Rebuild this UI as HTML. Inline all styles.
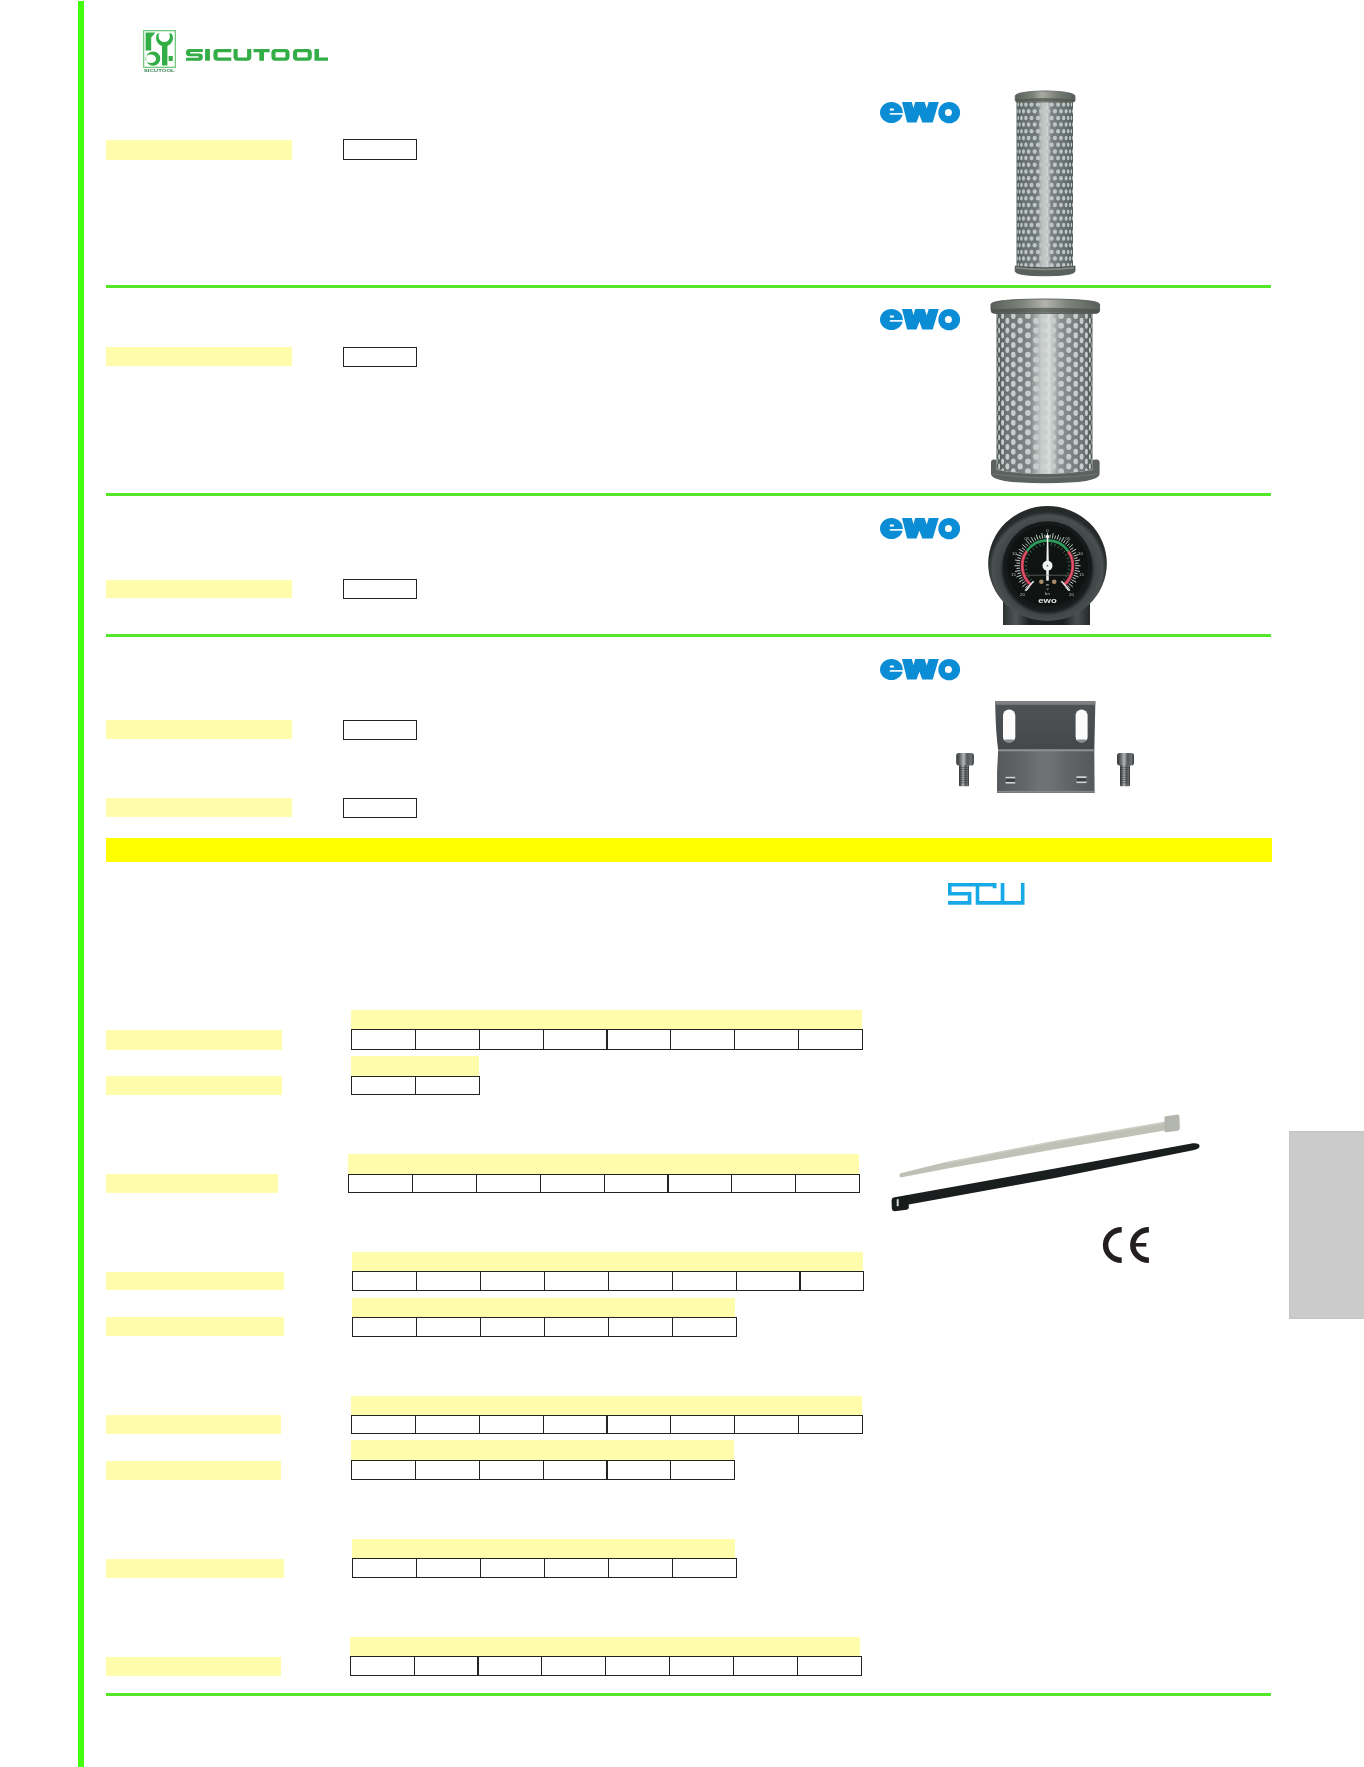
<!DOCTYPE html>
<html><head><meta charset="utf-8"><title>SICUTOOL catalogue page</title>
<style>
html,body{margin:0;padding:0;background:#fff;}
body{width:1364px;height:1767px;position:relative;overflow:hidden;font-family:"Liberation Sans",sans-serif;}
</style></head><body>
<div style="position:absolute;left:78px;top:1px;width:6px;height:1766px;background:#44ff0c;"></div>
<div style="position:absolute;left:106px;top:285px;width:1165px;height:3px;background:#55e828;"></div>
<div style="position:absolute;left:106px;top:493px;width:1165px;height:3px;background:#55e828;"></div>
<div style="position:absolute;left:106px;top:634px;width:1165px;height:3px;background:#55e828;"></div>
<div style="position:absolute;left:106px;top:1693px;width:1165px;height:3px;background:#55e828;"></div>
<div style="position:absolute;left:106px;top:140px;width:185.5px;height:19.5px;background:#fffdab;"></div>
<div style="position:absolute;left:106px;top:346.5px;width:185.5px;height:19.5px;background:#fffdab;"></div>
<div style="position:absolute;left:106px;top:579.5px;width:185.5px;height:18.5px;background:#fffdab;"></div>
<div style="position:absolute;left:106px;top:720px;width:185.5px;height:19px;background:#fffdab;"></div>
<div style="position:absolute;left:106px;top:798.3px;width:185.5px;height:19.200000000000045px;background:#fffdab;"></div>
<div style="position:absolute;left:343px;top:139px;width:74px;height:21px;box-sizing:border-box;border:1.5px solid #232323;"></div>
<div style="position:absolute;left:343px;top:346.5px;width:74px;height:20.0px;box-sizing:border-box;border:1.5px solid #232323;"></div>
<div style="position:absolute;left:343px;top:579px;width:74px;height:20px;box-sizing:border-box;border:1.5px solid #232323;"></div>
<div style="position:absolute;left:343px;top:719.8px;width:74px;height:19.800000000000068px;box-sizing:border-box;border:1.5px solid #232323;"></div>
<div style="position:absolute;left:343px;top:798.2px;width:74px;height:19.799999999999955px;box-sizing:border-box;border:1.5px solid #232323;"></div>
<div style="position:absolute;left:106px;top:837.7px;width:1165.5px;height:24px;background:#ffff00;"></div>
<div style="position:absolute;left:106px;top:1030px;width:176px;height:19.5px;background:#fffdab;"></div>
<div style="position:absolute;left:106px;top:1075.5px;width:176px;height:19.700000000000045px;background:#fffdab;"></div>
<div style="position:absolute;left:106px;top:1173.8px;width:172px;height:19.200000000000045px;background:#fffdab;"></div>
<div style="position:absolute;left:106px;top:1271.7px;width:178px;height:18.799999999999955px;background:#fffdab;"></div>
<div style="position:absolute;left:106px;top:1317.2px;width:178px;height:18.799999999999955px;background:#fffdab;"></div>
<div style="position:absolute;left:106px;top:1415.1px;width:175px;height:19.200000000000045px;background:#fffdab;"></div>
<div style="position:absolute;left:106px;top:1460.8px;width:175px;height:18.799999999999955px;background:#fffdab;"></div>
<div style="position:absolute;left:106px;top:1558.6px;width:178px;height:19.0px;background:#fffdab;"></div>
<div style="position:absolute;left:106px;top:1656.7px;width:175px;height:18.899999999999864px;background:#fffdab;"></div>
<div style="position:absolute;left:351px;top:1009.8px;width:510.8px;height:20.200000000000138px;background:#fffdab;"></div>
<div style="position:absolute;left:351px;top:1029.4px;width:511.90000000000003px;height:20.199999999999818px;box-sizing:border-box;border:1.2px solid #232323;"></div>
<div style="position:absolute;left:414.85px;top:1029.4px;width:1.2px;height:20.199999999999818px;background:#232323;"></div>
<div style="position:absolute;left:478.7px;top:1029.4px;width:1.2px;height:20.199999999999818px;background:#232323;"></div>
<div style="position:absolute;left:542.55px;top:1029.4px;width:1.2px;height:20.199999999999818px;background:#232323;"></div>
<div style="position:absolute;left:606.4px;top:1029.4px;width:1.2px;height:20.199999999999818px;background:#232323;"></div>
<div style="position:absolute;left:670.25px;top:1029.4px;width:1.2px;height:20.199999999999818px;background:#232323;"></div>
<div style="position:absolute;left:734.1px;top:1029.4px;width:1.2px;height:20.199999999999818px;background:#232323;"></div>
<div style="position:absolute;left:797.95px;top:1029.4px;width:1.2px;height:20.199999999999818px;background:#232323;"></div>
<div style="position:absolute;left:351px;top:1056px;width:127.7px;height:20.300000000000047px;background:#fffdab;"></div>
<div style="position:absolute;left:351px;top:1075.7px;width:128.8px;height:19.799999999999955px;box-sizing:border-box;border:1.2px solid #232323;"></div>
<div style="position:absolute;left:414.85px;top:1075.7px;width:1.2px;height:19.799999999999955px;background:#232323;"></div>
<div style="position:absolute;left:348.1px;top:1153.9px;width:510.8px;height:20.29999999999982px;background:#fffdab;"></div>
<div style="position:absolute;left:348.1px;top:1173.6px;width:511.90000000000003px;height:19.800000000000182px;box-sizing:border-box;border:1.2px solid #232323;"></div>
<div style="position:absolute;left:411.95000000000005px;top:1173.6px;width:1.2px;height:19.800000000000182px;background:#232323;"></div>
<div style="position:absolute;left:475.8px;top:1173.6px;width:1.2px;height:19.800000000000182px;background:#232323;"></div>
<div style="position:absolute;left:539.6500000000001px;top:1173.6px;width:1.2px;height:19.800000000000182px;background:#232323;"></div>
<div style="position:absolute;left:603.5px;top:1173.6px;width:1.2px;height:19.800000000000182px;background:#232323;"></div>
<div style="position:absolute;left:667.35px;top:1173.6px;width:1.2px;height:19.800000000000182px;background:#232323;"></div>
<div style="position:absolute;left:731.2px;top:1173.6px;width:1.2px;height:19.800000000000182px;background:#232323;"></div>
<div style="position:absolute;left:795.05px;top:1173.6px;width:1.2px;height:19.800000000000182px;background:#232323;"></div>
<div style="position:absolute;left:352.4px;top:1252.1px;width:510.8px;height:19.900000000000183px;background:#fffdab;"></div>
<div style="position:absolute;left:352.4px;top:1271.4px;width:511.90000000000003px;height:19.799999999999955px;box-sizing:border-box;border:1.2px solid #232323;"></div>
<div style="position:absolute;left:416.25px;top:1271.4px;width:1.2px;height:19.799999999999955px;background:#232323;"></div>
<div style="position:absolute;left:480.09999999999997px;top:1271.4px;width:1.2px;height:19.799999999999955px;background:#232323;"></div>
<div style="position:absolute;left:543.95px;top:1271.4px;width:1.2px;height:19.799999999999955px;background:#232323;"></div>
<div style="position:absolute;left:607.8px;top:1271.4px;width:1.2px;height:19.799999999999955px;background:#232323;"></div>
<div style="position:absolute;left:671.65px;top:1271.4px;width:1.2px;height:19.799999999999955px;background:#232323;"></div>
<div style="position:absolute;left:735.5px;top:1271.4px;width:1.2px;height:19.799999999999955px;background:#232323;"></div>
<div style="position:absolute;left:799.3499999999999px;top:1271.4px;width:1.2px;height:19.799999999999955px;background:#232323;"></div>
<div style="position:absolute;left:352.4px;top:1298.1px;width:383.1px;height:19.400000000000183px;background:#fffdab;"></div>
<div style="position:absolute;left:352.4px;top:1316.9px;width:384.20000000000005px;height:19.799999999999955px;box-sizing:border-box;border:1.2px solid #232323;"></div>
<div style="position:absolute;left:416.25px;top:1316.9px;width:1.2px;height:19.799999999999955px;background:#232323;"></div>
<div style="position:absolute;left:480.09999999999997px;top:1316.9px;width:1.2px;height:19.799999999999955px;background:#232323;"></div>
<div style="position:absolute;left:543.95px;top:1316.9px;width:1.2px;height:19.799999999999955px;background:#232323;"></div>
<div style="position:absolute;left:607.8px;top:1316.9px;width:1.2px;height:19.799999999999955px;background:#232323;"></div>
<div style="position:absolute;left:671.65px;top:1316.9px;width:1.2px;height:19.799999999999955px;background:#232323;"></div>
<div style="position:absolute;left:351px;top:1395.6px;width:510.8px;height:19.700000000000138px;background:#fffdab;"></div>
<div style="position:absolute;left:351px;top:1414.7px;width:511.90000000000003px;height:19.799999999999955px;box-sizing:border-box;border:1.2px solid #232323;"></div>
<div style="position:absolute;left:414.85px;top:1414.7px;width:1.2px;height:19.799999999999955px;background:#232323;"></div>
<div style="position:absolute;left:478.7px;top:1414.7px;width:1.2px;height:19.799999999999955px;background:#232323;"></div>
<div style="position:absolute;left:542.55px;top:1414.7px;width:1.2px;height:19.799999999999955px;background:#232323;"></div>
<div style="position:absolute;left:606.4px;top:1414.7px;width:1.2px;height:19.799999999999955px;background:#232323;"></div>
<div style="position:absolute;left:670.25px;top:1414.7px;width:1.2px;height:19.799999999999955px;background:#232323;"></div>
<div style="position:absolute;left:734.1px;top:1414.7px;width:1.2px;height:19.799999999999955px;background:#232323;"></div>
<div style="position:absolute;left:797.95px;top:1414.7px;width:1.2px;height:19.799999999999955px;background:#232323;"></div>
<div style="position:absolute;left:351px;top:1440.4px;width:383.1px;height:20.399999999999956px;background:#fffdab;"></div>
<div style="position:absolute;left:351px;top:1460.2px;width:384.20000000000005px;height:19.799999999999955px;box-sizing:border-box;border:1.2px solid #232323;"></div>
<div style="position:absolute;left:414.85px;top:1460.2px;width:1.2px;height:19.799999999999955px;background:#232323;"></div>
<div style="position:absolute;left:478.7px;top:1460.2px;width:1.2px;height:19.799999999999955px;background:#232323;"></div>
<div style="position:absolute;left:542.55px;top:1460.2px;width:1.2px;height:19.799999999999955px;background:#232323;"></div>
<div style="position:absolute;left:606.4px;top:1460.2px;width:1.2px;height:19.799999999999955px;background:#232323;"></div>
<div style="position:absolute;left:670.25px;top:1460.2px;width:1.2px;height:19.799999999999955px;background:#232323;"></div>
<div style="position:absolute;left:352.4px;top:1538.9px;width:383.1px;height:20.1px;background:#fffdab;"></div>
<div style="position:absolute;left:352.4px;top:1558.4px;width:384.20000000000005px;height:19.799999999999955px;box-sizing:border-box;border:1.2px solid #232323;"></div>
<div style="position:absolute;left:416.25px;top:1558.4px;width:1.2px;height:19.799999999999955px;background:#232323;"></div>
<div style="position:absolute;left:480.09999999999997px;top:1558.4px;width:1.2px;height:19.799999999999955px;background:#232323;"></div>
<div style="position:absolute;left:543.95px;top:1558.4px;width:1.2px;height:19.799999999999955px;background:#232323;"></div>
<div style="position:absolute;left:607.8px;top:1558.4px;width:1.2px;height:19.799999999999955px;background:#232323;"></div>
<div style="position:absolute;left:671.65px;top:1558.4px;width:1.2px;height:19.799999999999955px;background:#232323;"></div>
<div style="position:absolute;left:349.7px;top:1637.1px;width:510.8px;height:19.900000000000183px;background:#fffdab;"></div>
<div style="position:absolute;left:349.7px;top:1656.4px;width:511.90000000000003px;height:19.799999999999955px;box-sizing:border-box;border:1.2px solid #232323;"></div>
<div style="position:absolute;left:413.55px;top:1656.4px;width:1.2px;height:19.799999999999955px;background:#232323;"></div>
<div style="position:absolute;left:477.4px;top:1656.4px;width:1.2px;height:19.799999999999955px;background:#232323;"></div>
<div style="position:absolute;left:541.25px;top:1656.4px;width:1.2px;height:19.799999999999955px;background:#232323;"></div>
<div style="position:absolute;left:605.1px;top:1656.4px;width:1.2px;height:19.799999999999955px;background:#232323;"></div>
<div style="position:absolute;left:668.95px;top:1656.4px;width:1.2px;height:19.799999999999955px;background:#232323;"></div>
<div style="position:absolute;left:732.8px;top:1656.4px;width:1.2px;height:19.799999999999955px;background:#232323;"></div>
<div style="position:absolute;left:796.65px;top:1656.4px;width:1.2px;height:19.799999999999955px;background:#232323;"></div>
<div style="position:absolute;left:1289px;top:1131px;width:75px;height:188px;background:#cbcbcb;box-sizing:border-box;border:1px solid #c4c4c4;border-right:none;"></div>
<svg style="position:absolute;left:143px;top:30px;overflow:visible;will-change:transform" width="34" height="43" viewBox="0 0 34 43">
<defs><clipPath id="hc"><rect x="0" y="3.4" width="34" height="40"/></clipPath></defs>
<rect x="0.65" y="0.65" width="31.7" height="36.7" fill="none" stroke="#74c97f" stroke-width="1.3"/>
<path d="M2.6,2.4 H12.4 L8.2,7.6 V20.5 H2.6 Z" fill="#33ad45"/>
<path clip-path="url(#hc)" fill-rule="evenodd" fill="#33ad45" d="M13,8.1 A8.5,8.5 0 1 0 30,8.1 A8.5,8.5 0 1 0 13,8.1 Z M15.6,6.45 A5.65,5.65 0 1 0 26.9,6.45 A5.65,5.65 0 1 0 15.6,6.45 Z"/>
<rect x="19" y="14" width="5.4" height="21.5" fill="#33ad45"/>
<path fill-rule="evenodd" fill="#33ad45" d="M3,28.65 A7.15,7.15 0 1 0 17.3,28.65 A7.15,7.15 0 1 0 3,28.65 Z M2.4,28.7 A5.35,4.3 0 1 0 13.1,28.7 A5.35,4.3 0 1 0 2.4,28.7 Z"/>
<rect x="25.6" y="26" width="4.2" height="5" fill="#33ad45"/>
<text x="0.8" y="41.9" font-family="Liberation Sans" font-weight="bold" font-size="3" textLength="31" lengthAdjust="spacingAndGlyphs" fill="#3a7d52">SICUTOOL</text>
</svg>
<svg style="position:absolute;left:186px;top:49.2px;overflow:visible;will-change:transform" width="144" height="13" viewBox="0 0 144 13"><path d="M16.8,0 H3.4 Q0,0 0,3.4 V4.099999999999999 Q0,7.299999999999999 3.2,7.299999999999999 H12.6 V8.799999999999999 H0 V11.7 H13.4 Q16.8,11.7 16.8,8.299999999999999 V7.6 Q16.8,4.3999999999999995 13.6,4.3999999999999995 H4.2 V2.9 H16.8 Z" fill="#33ad45" fill-rule="evenodd"/><path d="M19.1,0 H23.9 V11.7 H19.1 Z" fill="#33ad45" fill-rule="evenodd"/><path d="M45.3,0 H31.4 Q27.4,0 27.4,4 V7.699999999999999 Q27.4,11.7 31.4,11.7 H45.3 V8.5 H32 Q31.6,8.5 31.6,8.1 V3.6 Q31.6,3.2 32,3.2 H45.3 Z" fill="#33ad45" fill-rule="evenodd"/><path d="M47.5,0 V7.699999999999999 Q47.5,11.7 51.5,11.7 H61.3 Q65.3,11.7 65.3,7.699999999999999 V0 H61.1 V8.1 Q61.1,8.5 60.7,8.5 H52.1 Q51.7,8.5 51.7,8.1 V0 Z" fill="#33ad45" fill-rule="evenodd"/><path d="M67.5,0 H83.6 V3.2 H78 V11.7 H73.3 V3.2 H67.5 Z" fill="#33ad45" fill-rule="evenodd"/><path d="M89.4,0 H99.5 Q103.5,0 103.5,4 V7.699999999999999 Q103.5,11.7 99.5,11.7 H89.4 Q85.4,11.7 85.4,7.699999999999999 V4 Q85.4,0 89.4,0 Z M89.7,3.2 H99.2 Q99.4,3.2 99.4,3.6 V8.1 Q99.4,8.5 99.2,8.5 H89.7 Q89.5,8.5 89.5,8.1 V3.6 Q89.5,3.2 89.7,3.2 Z" fill="#33ad45" fill-rule="evenodd"/><path d="M111,0 H121.8 Q125.8,0 125.8,4 V7.699999999999999 Q125.8,11.7 121.8,11.7 H111 Q107,11.7 107,7.699999999999999 V4 Q107,0 111,0 Z M111.3,3.2 H121.5 Q121.7,3.2 121.7,3.6 V8.1 Q121.7,8.5 121.5,8.5 H111.3 Q111.1,8.5 111.1,8.1 V3.6 Q111.1,3.2 111.3,3.2 Z" fill="#33ad45" fill-rule="evenodd"/><path d="M128.5,0 H133 V8.5 H142 V11.7 H128.5 Z" fill="#33ad45" fill-rule="evenodd"/></svg>
<svg style="position:absolute;left:880px;top:102px;overflow:visible;will-change:transform" width="80" height="21" viewBox="0 0 80 21">
<ellipse cx="11.4" cy="10.5" rx="11.4" ry="10.6" fill="#0b8dd6"/>
<rect x="9.8" y="6.6" width="4.2" height="2" rx="0.9" fill="#fff"/>
<rect x="9.8" y="11.1" width="13.6" height="1.6" fill="#fff"/>
<path d="M22,0 H31.8 L33.5,6.3 L35.2,0 H44.6 L46.7,6.6 L48.7,0 H58.8 L52.7,20.6 H42.3 L39.4,12.7 L36.5,20.6 H27.1 Z" fill="#0b8dd6"/>
<ellipse cx="69.2" cy="10.6" rx="10.9" ry="10.7" fill="#0b8dd6"/>
<circle cx="68.4" cy="10.6" r="3.5" fill="#fff"/>
</svg>
<svg style="position:absolute;left:880px;top:309.2px;overflow:visible;will-change:transform" width="80" height="21" viewBox="0 0 80 21">
<ellipse cx="11.4" cy="10.5" rx="11.4" ry="10.6" fill="#0b8dd6"/>
<rect x="9.8" y="6.6" width="4.2" height="2" rx="0.9" fill="#fff"/>
<rect x="9.8" y="11.1" width="13.6" height="1.6" fill="#fff"/>
<path d="M22,0 H31.8 L33.5,6.3 L35.2,0 H44.6 L46.7,6.6 L48.7,0 H58.8 L52.7,20.6 H42.3 L39.4,12.7 L36.5,20.6 H27.1 Z" fill="#0b8dd6"/>
<ellipse cx="69.2" cy="10.6" rx="10.9" ry="10.7" fill="#0b8dd6"/>
<circle cx="68.4" cy="10.6" r="3.5" fill="#fff"/>
</svg>
<svg style="position:absolute;left:880px;top:518.2px;overflow:visible;will-change:transform" width="80" height="21" viewBox="0 0 80 21">
<ellipse cx="11.4" cy="10.5" rx="11.4" ry="10.6" fill="#0b8dd6"/>
<rect x="9.8" y="6.6" width="4.2" height="2" rx="0.9" fill="#fff"/>
<rect x="9.8" y="11.1" width="13.6" height="1.6" fill="#fff"/>
<path d="M22,0 H31.8 L33.5,6.3 L35.2,0 H44.6 L46.7,6.6 L48.7,0 H58.8 L52.7,20.6 H42.3 L39.4,12.7 L36.5,20.6 H27.1 Z" fill="#0b8dd6"/>
<ellipse cx="69.2" cy="10.6" rx="10.9" ry="10.7" fill="#0b8dd6"/>
<circle cx="68.4" cy="10.6" r="3.5" fill="#fff"/>
</svg>
<svg style="position:absolute;left:880px;top:658.6px;overflow:visible;will-change:transform" width="80" height="21" viewBox="0 0 80 21">
<ellipse cx="11.4" cy="10.5" rx="11.4" ry="10.6" fill="#0b8dd6"/>
<rect x="9.8" y="6.6" width="4.2" height="2" rx="0.9" fill="#fff"/>
<rect x="9.8" y="11.1" width="13.6" height="1.6" fill="#fff"/>
<path d="M22,0 H31.8 L33.5,6.3 L35.2,0 H44.6 L46.7,6.6 L48.7,0 H58.8 L52.7,20.6 H42.3 L39.4,12.7 L36.5,20.6 H27.1 Z" fill="#0b8dd6"/>
<ellipse cx="69.2" cy="10.6" rx="10.9" ry="10.7" fill="#0b8dd6"/>
<circle cx="68.4" cy="10.6" r="3.5" fill="#fff"/>
</svg>
<svg style="position:absolute;left:948.3px;top:883.3px;overflow:visible;will-change:transform" width="77" height="22" viewBox="0 0 77 22"><path fill="#17a9e6" d="M0,0 h48.5 v3.6 h-48.5 Z M44.7,0 h3.8 v5.2 h-3.8 Z M0,0 h3.6 v12.5 h-3.6 Z M0,8.9 h23.4 v3.6 h-23.4 Z M19.7,8.9 h3.7 v12.8 h-3.7 Z M0,18.1 h23.4 v3.6 h-23.4 Z M27.7,0 h3.6 v21.7 h-3.6 Z M27.7,18.1 h48.8 v3.6 h-48.8 Z M52.7,0 h3.7 v21.7 h-3.7 Z M72.9,0 h3.6 v21.7 h-3.6 Z"/></svg>
<svg style="position:absolute;left:1102.6px;top:1227px;overflow:visible;will-change:transform" width="48" height="37" viewBox="0 0 48 37"><g fill="none" stroke="#231f20" stroke-width="5.5">
<path d="M18.7,2.7 A16.1,15.3 0 0 0 18.7,33.3"/>
<path d="M45.9,2.7 A16.1,15.3 0 0 0 45.9,33.3"/>
</g>
<rect x="31.5" y="16" width="11.8" height="3.6" fill="#231f20"/></svg>
<svg style="position:absolute;left:0;top:0;overflow:visible;will-change:transform" width="1364" height="1767"><defs>
<linearGradient id="f1body" x1="0" x2="1" y1="0" y2="0">
 <stop offset="0" stop-color="#515b5a"/>
 <stop offset="0.12" stop-color="#687170"/>
 <stop offset="0.38" stop-color="#727b7a"/>
 <stop offset="0.43" stop-color="#b4bab9"/>
 <stop offset="0.55" stop-color="#cfd3d1"/>
 <stop offset="0.61" stop-color="#7b8483"/>
 <stop offset="0.88" stop-color="#656e6d"/>
 <stop offset="1" stop-color="#535d5c"/>
</linearGradient>
<linearGradient id="f1cap" x1="0" x2="1" y1="0" y2="0">
 <stop offset="0" stop-color="#5a5f5b"/>
 <stop offset="0.3" stop-color="#7e827c"/>
 <stop offset="0.45" stop-color="#a9aba2"/>
 <stop offset="0.7" stop-color="#7a7e78"/>
 <stop offset="1" stop-color="#585d59"/>
</linearGradient>
</defs><rect x="1016.5" y="100" width="56.5" height="170" fill="url(#f1body)"/><g fill="#bec7c6" ><ellipse cx="1018.2" cy="104.5" rx="0.77" ry="2.25"/><ellipse cx="1021.4" cy="104.5" rx="1.26" ry="2.25"/><ellipse cx="1025.9" cy="104.5" rx="1.67" ry="2.25"/><ellipse cx="1031.5" cy="104.5" rx="1.99" ry="2.25"/><ellipse cx="1038.0" cy="104.5" rx="2.18" ry="2.25"/><ellipse cx="1044.8" cy="104.5" rx="2.25" ry="2.25"/><ellipse cx="1051.6" cy="104.5" rx="2.18" ry="2.25"/><ellipse cx="1058.1" cy="104.5" rx="1.99" ry="2.25"/><ellipse cx="1063.7" cy="104.5" rx="1.67" ry="2.25"/><ellipse cx="1068.2" cy="104.5" rx="1.26" ry="2.25"/><ellipse cx="1071.4" cy="104.5" rx="0.77" ry="2.25"/><ellipse cx="1017.2" cy="111.2" rx="0.51" ry="2.25"/><ellipse cx="1019.6" cy="111.2" rx="1.02" ry="2.25"/><ellipse cx="1023.5" cy="111.2" rx="1.48" ry="2.25"/><ellipse cx="1028.6" cy="111.2" rx="1.84" ry="2.25"/><ellipse cx="1034.7" cy="111.2" rx="2.10" ry="2.25"/><ellipse cx="1041.4" cy="111.2" rx="2.23" ry="2.25"/><ellipse cx="1048.2" cy="111.2" rx="2.23" ry="2.25"/><ellipse cx="1054.9" cy="111.2" rx="2.10" ry="2.25"/><ellipse cx="1061.0" cy="111.2" rx="1.84" ry="2.25"/><ellipse cx="1066.1" cy="111.2" rx="1.48" ry="2.25"/><ellipse cx="1070.0" cy="111.2" rx="1.02" ry="2.25"/><ellipse cx="1072.4" cy="111.2" rx="0.51" ry="2.25"/><ellipse cx="1018.2" cy="117.9" rx="0.77" ry="2.25"/><ellipse cx="1021.4" cy="117.9" rx="1.26" ry="2.25"/><ellipse cx="1025.9" cy="117.9" rx="1.67" ry="2.25"/><ellipse cx="1031.5" cy="117.9" rx="1.99" ry="2.25"/><ellipse cx="1038.0" cy="117.9" rx="2.18" ry="2.25"/><ellipse cx="1044.8" cy="117.9" rx="2.25" ry="2.25"/><ellipse cx="1051.6" cy="117.9" rx="2.18" ry="2.25"/><ellipse cx="1058.1" cy="117.9" rx="1.99" ry="2.25"/><ellipse cx="1063.7" cy="117.9" rx="1.67" ry="2.25"/><ellipse cx="1068.2" cy="117.9" rx="1.26" ry="2.25"/><ellipse cx="1071.4" cy="117.9" rx="0.77" ry="2.25"/><ellipse cx="1017.2" cy="124.6" rx="0.51" ry="2.25"/><ellipse cx="1019.6" cy="124.6" rx="1.02" ry="2.25"/><ellipse cx="1023.5" cy="124.6" rx="1.48" ry="2.25"/><ellipse cx="1028.6" cy="124.6" rx="1.84" ry="2.25"/><ellipse cx="1034.7" cy="124.6" rx="2.10" ry="2.25"/><ellipse cx="1041.4" cy="124.6" rx="2.23" ry="2.25"/><ellipse cx="1048.2" cy="124.6" rx="2.23" ry="2.25"/><ellipse cx="1054.9" cy="124.6" rx="2.10" ry="2.25"/><ellipse cx="1061.0" cy="124.6" rx="1.84" ry="2.25"/><ellipse cx="1066.1" cy="124.6" rx="1.48" ry="2.25"/><ellipse cx="1070.0" cy="124.6" rx="1.02" ry="2.25"/><ellipse cx="1072.4" cy="124.6" rx="0.51" ry="2.25"/><ellipse cx="1018.2" cy="131.3" rx="0.77" ry="2.25"/><ellipse cx="1021.4" cy="131.3" rx="1.26" ry="2.25"/><ellipse cx="1025.9" cy="131.3" rx="1.67" ry="2.25"/><ellipse cx="1031.5" cy="131.3" rx="1.99" ry="2.25"/><ellipse cx="1038.0" cy="131.3" rx="2.18" ry="2.25"/><ellipse cx="1044.8" cy="131.3" rx="2.25" ry="2.25"/><ellipse cx="1051.6" cy="131.3" rx="2.18" ry="2.25"/><ellipse cx="1058.1" cy="131.3" rx="1.99" ry="2.25"/><ellipse cx="1063.7" cy="131.3" rx="1.67" ry="2.25"/><ellipse cx="1068.2" cy="131.3" rx="1.26" ry="2.25"/><ellipse cx="1071.4" cy="131.3" rx="0.77" ry="2.25"/><ellipse cx="1017.2" cy="138.0" rx="0.51" ry="2.25"/><ellipse cx="1019.6" cy="138.0" rx="1.02" ry="2.25"/><ellipse cx="1023.5" cy="138.0" rx="1.48" ry="2.25"/><ellipse cx="1028.6" cy="138.0" rx="1.84" ry="2.25"/><ellipse cx="1034.7" cy="138.0" rx="2.10" ry="2.25"/><ellipse cx="1041.4" cy="138.0" rx="2.23" ry="2.25"/><ellipse cx="1048.2" cy="138.0" rx="2.23" ry="2.25"/><ellipse cx="1054.9" cy="138.0" rx="2.10" ry="2.25"/><ellipse cx="1061.0" cy="138.0" rx="1.84" ry="2.25"/><ellipse cx="1066.1" cy="138.0" rx="1.48" ry="2.25"/><ellipse cx="1070.0" cy="138.0" rx="1.02" ry="2.25"/><ellipse cx="1072.4" cy="138.0" rx="0.51" ry="2.25"/><ellipse cx="1018.2" cy="144.7" rx="0.77" ry="2.25"/><ellipse cx="1021.4" cy="144.7" rx="1.26" ry="2.25"/><ellipse cx="1025.9" cy="144.7" rx="1.67" ry="2.25"/><ellipse cx="1031.5" cy="144.7" rx="1.99" ry="2.25"/><ellipse cx="1038.0" cy="144.7" rx="2.18" ry="2.25"/><ellipse cx="1044.8" cy="144.7" rx="2.25" ry="2.25"/><ellipse cx="1051.6" cy="144.7" rx="2.18" ry="2.25"/><ellipse cx="1058.1" cy="144.7" rx="1.99" ry="2.25"/><ellipse cx="1063.7" cy="144.7" rx="1.67" ry="2.25"/><ellipse cx="1068.2" cy="144.7" rx="1.26" ry="2.25"/><ellipse cx="1071.4" cy="144.7" rx="0.77" ry="2.25"/><ellipse cx="1017.2" cy="151.4" rx="0.51" ry="2.25"/><ellipse cx="1019.6" cy="151.4" rx="1.02" ry="2.25"/><ellipse cx="1023.5" cy="151.4" rx="1.48" ry="2.25"/><ellipse cx="1028.6" cy="151.4" rx="1.84" ry="2.25"/><ellipse cx="1034.7" cy="151.4" rx="2.10" ry="2.25"/><ellipse cx="1041.4" cy="151.4" rx="2.23" ry="2.25"/><ellipse cx="1048.2" cy="151.4" rx="2.23" ry="2.25"/><ellipse cx="1054.9" cy="151.4" rx="2.10" ry="2.25"/><ellipse cx="1061.0" cy="151.4" rx="1.84" ry="2.25"/><ellipse cx="1066.1" cy="151.4" rx="1.48" ry="2.25"/><ellipse cx="1070.0" cy="151.4" rx="1.02" ry="2.25"/><ellipse cx="1072.4" cy="151.4" rx="0.51" ry="2.25"/><ellipse cx="1018.2" cy="158.1" rx="0.77" ry="2.25"/><ellipse cx="1021.4" cy="158.1" rx="1.26" ry="2.25"/><ellipse cx="1025.9" cy="158.1" rx="1.67" ry="2.25"/><ellipse cx="1031.5" cy="158.1" rx="1.99" ry="2.25"/><ellipse cx="1038.0" cy="158.1" rx="2.18" ry="2.25"/><ellipse cx="1044.8" cy="158.1" rx="2.25" ry="2.25"/><ellipse cx="1051.6" cy="158.1" rx="2.18" ry="2.25"/><ellipse cx="1058.1" cy="158.1" rx="1.99" ry="2.25"/><ellipse cx="1063.7" cy="158.1" rx="1.67" ry="2.25"/><ellipse cx="1068.2" cy="158.1" rx="1.26" ry="2.25"/><ellipse cx="1071.4" cy="158.1" rx="0.77" ry="2.25"/><ellipse cx="1017.2" cy="164.8" rx="0.51" ry="2.25"/><ellipse cx="1019.6" cy="164.8" rx="1.02" ry="2.25"/><ellipse cx="1023.5" cy="164.8" rx="1.48" ry="2.25"/><ellipse cx="1028.6" cy="164.8" rx="1.84" ry="2.25"/><ellipse cx="1034.7" cy="164.8" rx="2.10" ry="2.25"/><ellipse cx="1041.4" cy="164.8" rx="2.23" ry="2.25"/><ellipse cx="1048.2" cy="164.8" rx="2.23" ry="2.25"/><ellipse cx="1054.9" cy="164.8" rx="2.10" ry="2.25"/><ellipse cx="1061.0" cy="164.8" rx="1.84" ry="2.25"/><ellipse cx="1066.1" cy="164.8" rx="1.48" ry="2.25"/><ellipse cx="1070.0" cy="164.8" rx="1.02" ry="2.25"/><ellipse cx="1072.4" cy="164.8" rx="0.51" ry="2.25"/><ellipse cx="1018.2" cy="171.5" rx="0.77" ry="2.25"/><ellipse cx="1021.4" cy="171.5" rx="1.26" ry="2.25"/><ellipse cx="1025.9" cy="171.5" rx="1.67" ry="2.25"/><ellipse cx="1031.5" cy="171.5" rx="1.99" ry="2.25"/><ellipse cx="1038.0" cy="171.5" rx="2.18" ry="2.25"/><ellipse cx="1044.8" cy="171.5" rx="2.25" ry="2.25"/><ellipse cx="1051.6" cy="171.5" rx="2.18" ry="2.25"/><ellipse cx="1058.1" cy="171.5" rx="1.99" ry="2.25"/><ellipse cx="1063.7" cy="171.5" rx="1.67" ry="2.25"/><ellipse cx="1068.2" cy="171.5" rx="1.26" ry="2.25"/><ellipse cx="1071.4" cy="171.5" rx="0.77" ry="2.25"/><ellipse cx="1017.2" cy="178.2" rx="0.51" ry="2.25"/><ellipse cx="1019.6" cy="178.2" rx="1.02" ry="2.25"/><ellipse cx="1023.5" cy="178.2" rx="1.48" ry="2.25"/><ellipse cx="1028.6" cy="178.2" rx="1.84" ry="2.25"/><ellipse cx="1034.7" cy="178.2" rx="2.10" ry="2.25"/><ellipse cx="1041.4" cy="178.2" rx="2.23" ry="2.25"/><ellipse cx="1048.2" cy="178.2" rx="2.23" ry="2.25"/><ellipse cx="1054.9" cy="178.2" rx="2.10" ry="2.25"/><ellipse cx="1061.0" cy="178.2" rx="1.84" ry="2.25"/><ellipse cx="1066.1" cy="178.2" rx="1.48" ry="2.25"/><ellipse cx="1070.0" cy="178.2" rx="1.02" ry="2.25"/><ellipse cx="1072.4" cy="178.2" rx="0.51" ry="2.25"/><ellipse cx="1018.2" cy="184.9" rx="0.77" ry="2.25"/><ellipse cx="1021.4" cy="184.9" rx="1.26" ry="2.25"/><ellipse cx="1025.9" cy="184.9" rx="1.67" ry="2.25"/><ellipse cx="1031.5" cy="184.9" rx="1.99" ry="2.25"/><ellipse cx="1038.0" cy="184.9" rx="2.18" ry="2.25"/><ellipse cx="1044.8" cy="184.9" rx="2.25" ry="2.25"/><ellipse cx="1051.6" cy="184.9" rx="2.18" ry="2.25"/><ellipse cx="1058.1" cy="184.9" rx="1.99" ry="2.25"/><ellipse cx="1063.7" cy="184.9" rx="1.67" ry="2.25"/><ellipse cx="1068.2" cy="184.9" rx="1.26" ry="2.25"/><ellipse cx="1071.4" cy="184.9" rx="0.77" ry="2.25"/><ellipse cx="1017.2" cy="191.6" rx="0.51" ry="2.25"/><ellipse cx="1019.6" cy="191.6" rx="1.02" ry="2.25"/><ellipse cx="1023.5" cy="191.6" rx="1.48" ry="2.25"/><ellipse cx="1028.6" cy="191.6" rx="1.84" ry="2.25"/><ellipse cx="1034.7" cy="191.6" rx="2.10" ry="2.25"/><ellipse cx="1041.4" cy="191.6" rx="2.23" ry="2.25"/><ellipse cx="1048.2" cy="191.6" rx="2.23" ry="2.25"/><ellipse cx="1054.9" cy="191.6" rx="2.10" ry="2.25"/><ellipse cx="1061.0" cy="191.6" rx="1.84" ry="2.25"/><ellipse cx="1066.1" cy="191.6" rx="1.48" ry="2.25"/><ellipse cx="1070.0" cy="191.6" rx="1.02" ry="2.25"/><ellipse cx="1072.4" cy="191.6" rx="0.51" ry="2.25"/><ellipse cx="1018.2" cy="198.3" rx="0.77" ry="2.25"/><ellipse cx="1021.4" cy="198.3" rx="1.26" ry="2.25"/><ellipse cx="1025.9" cy="198.3" rx="1.67" ry="2.25"/><ellipse cx="1031.5" cy="198.3" rx="1.99" ry="2.25"/><ellipse cx="1038.0" cy="198.3" rx="2.18" ry="2.25"/><ellipse cx="1044.8" cy="198.3" rx="2.25" ry="2.25"/><ellipse cx="1051.6" cy="198.3" rx="2.18" ry="2.25"/><ellipse cx="1058.1" cy="198.3" rx="1.99" ry="2.25"/><ellipse cx="1063.7" cy="198.3" rx="1.67" ry="2.25"/><ellipse cx="1068.2" cy="198.3" rx="1.26" ry="2.25"/><ellipse cx="1071.4" cy="198.3" rx="0.77" ry="2.25"/><ellipse cx="1017.2" cy="205.0" rx="0.51" ry="2.25"/><ellipse cx="1019.6" cy="205.0" rx="1.02" ry="2.25"/><ellipse cx="1023.5" cy="205.0" rx="1.48" ry="2.25"/><ellipse cx="1028.6" cy="205.0" rx="1.84" ry="2.25"/><ellipse cx="1034.7" cy="205.0" rx="2.10" ry="2.25"/><ellipse cx="1041.4" cy="205.0" rx="2.23" ry="2.25"/><ellipse cx="1048.2" cy="205.0" rx="2.23" ry="2.25"/><ellipse cx="1054.9" cy="205.0" rx="2.10" ry="2.25"/><ellipse cx="1061.0" cy="205.0" rx="1.84" ry="2.25"/><ellipse cx="1066.1" cy="205.0" rx="1.48" ry="2.25"/><ellipse cx="1070.0" cy="205.0" rx="1.02" ry="2.25"/><ellipse cx="1072.4" cy="205.0" rx="0.51" ry="2.25"/><ellipse cx="1018.2" cy="211.7" rx="0.77" ry="2.25"/><ellipse cx="1021.4" cy="211.7" rx="1.26" ry="2.25"/><ellipse cx="1025.9" cy="211.7" rx="1.67" ry="2.25"/><ellipse cx="1031.5" cy="211.7" rx="1.99" ry="2.25"/><ellipse cx="1038.0" cy="211.7" rx="2.18" ry="2.25"/><ellipse cx="1044.8" cy="211.7" rx="2.25" ry="2.25"/><ellipse cx="1051.6" cy="211.7" rx="2.18" ry="2.25"/><ellipse cx="1058.1" cy="211.7" rx="1.99" ry="2.25"/><ellipse cx="1063.7" cy="211.7" rx="1.67" ry="2.25"/><ellipse cx="1068.2" cy="211.7" rx="1.26" ry="2.25"/><ellipse cx="1071.4" cy="211.7" rx="0.77" ry="2.25"/><ellipse cx="1017.2" cy="218.4" rx="0.51" ry="2.25"/><ellipse cx="1019.6" cy="218.4" rx="1.02" ry="2.25"/><ellipse cx="1023.5" cy="218.4" rx="1.48" ry="2.25"/><ellipse cx="1028.6" cy="218.4" rx="1.84" ry="2.25"/><ellipse cx="1034.7" cy="218.4" rx="2.10" ry="2.25"/><ellipse cx="1041.4" cy="218.4" rx="2.23" ry="2.25"/><ellipse cx="1048.2" cy="218.4" rx="2.23" ry="2.25"/><ellipse cx="1054.9" cy="218.4" rx="2.10" ry="2.25"/><ellipse cx="1061.0" cy="218.4" rx="1.84" ry="2.25"/><ellipse cx="1066.1" cy="218.4" rx="1.48" ry="2.25"/><ellipse cx="1070.0" cy="218.4" rx="1.02" ry="2.25"/><ellipse cx="1072.4" cy="218.4" rx="0.51" ry="2.25"/><ellipse cx="1018.2" cy="225.1" rx="0.77" ry="2.25"/><ellipse cx="1021.4" cy="225.1" rx="1.26" ry="2.25"/><ellipse cx="1025.9" cy="225.1" rx="1.67" ry="2.25"/><ellipse cx="1031.5" cy="225.1" rx="1.99" ry="2.25"/><ellipse cx="1038.0" cy="225.1" rx="2.18" ry="2.25"/><ellipse cx="1044.8" cy="225.1" rx="2.25" ry="2.25"/><ellipse cx="1051.6" cy="225.1" rx="2.18" ry="2.25"/><ellipse cx="1058.1" cy="225.1" rx="1.99" ry="2.25"/><ellipse cx="1063.7" cy="225.1" rx="1.67" ry="2.25"/><ellipse cx="1068.2" cy="225.1" rx="1.26" ry="2.25"/><ellipse cx="1071.4" cy="225.1" rx="0.77" ry="2.25"/><ellipse cx="1017.2" cy="231.8" rx="0.51" ry="2.25"/><ellipse cx="1019.6" cy="231.8" rx="1.02" ry="2.25"/><ellipse cx="1023.5" cy="231.8" rx="1.48" ry="2.25"/><ellipse cx="1028.6" cy="231.8" rx="1.84" ry="2.25"/><ellipse cx="1034.7" cy="231.8" rx="2.10" ry="2.25"/><ellipse cx="1041.4" cy="231.8" rx="2.23" ry="2.25"/><ellipse cx="1048.2" cy="231.8" rx="2.23" ry="2.25"/><ellipse cx="1054.9" cy="231.8" rx="2.10" ry="2.25"/><ellipse cx="1061.0" cy="231.8" rx="1.84" ry="2.25"/><ellipse cx="1066.1" cy="231.8" rx="1.48" ry="2.25"/><ellipse cx="1070.0" cy="231.8" rx="1.02" ry="2.25"/><ellipse cx="1072.4" cy="231.8" rx="0.51" ry="2.25"/><ellipse cx="1018.2" cy="238.5" rx="0.77" ry="2.25"/><ellipse cx="1021.4" cy="238.5" rx="1.26" ry="2.25"/><ellipse cx="1025.9" cy="238.5" rx="1.67" ry="2.25"/><ellipse cx="1031.5" cy="238.5" rx="1.99" ry="2.25"/><ellipse cx="1038.0" cy="238.5" rx="2.18" ry="2.25"/><ellipse cx="1044.8" cy="238.5" rx="2.25" ry="2.25"/><ellipse cx="1051.6" cy="238.5" rx="2.18" ry="2.25"/><ellipse cx="1058.1" cy="238.5" rx="1.99" ry="2.25"/><ellipse cx="1063.7" cy="238.5" rx="1.67" ry="2.25"/><ellipse cx="1068.2" cy="238.5" rx="1.26" ry="2.25"/><ellipse cx="1071.4" cy="238.5" rx="0.77" ry="2.25"/><ellipse cx="1017.2" cy="245.2" rx="0.51" ry="2.25"/><ellipse cx="1019.6" cy="245.2" rx="1.02" ry="2.25"/><ellipse cx="1023.5" cy="245.2" rx="1.48" ry="2.25"/><ellipse cx="1028.6" cy="245.2" rx="1.84" ry="2.25"/><ellipse cx="1034.7" cy="245.2" rx="2.10" ry="2.25"/><ellipse cx="1041.4" cy="245.2" rx="2.23" ry="2.25"/><ellipse cx="1048.2" cy="245.2" rx="2.23" ry="2.25"/><ellipse cx="1054.9" cy="245.2" rx="2.10" ry="2.25"/><ellipse cx="1061.0" cy="245.2" rx="1.84" ry="2.25"/><ellipse cx="1066.1" cy="245.2" rx="1.48" ry="2.25"/><ellipse cx="1070.0" cy="245.2" rx="1.02" ry="2.25"/><ellipse cx="1072.4" cy="245.2" rx="0.51" ry="2.25"/><ellipse cx="1018.2" cy="251.9" rx="0.77" ry="2.25"/><ellipse cx="1021.4" cy="251.9" rx="1.26" ry="2.25"/><ellipse cx="1025.9" cy="251.9" rx="1.67" ry="2.25"/><ellipse cx="1031.5" cy="251.9" rx="1.99" ry="2.25"/><ellipse cx="1038.0" cy="251.9" rx="2.18" ry="2.25"/><ellipse cx="1044.8" cy="251.9" rx="2.25" ry="2.25"/><ellipse cx="1051.6" cy="251.9" rx="2.18" ry="2.25"/><ellipse cx="1058.1" cy="251.9" rx="1.99" ry="2.25"/><ellipse cx="1063.7" cy="251.9" rx="1.67" ry="2.25"/><ellipse cx="1068.2" cy="251.9" rx="1.26" ry="2.25"/><ellipse cx="1071.4" cy="251.9" rx="0.77" ry="2.25"/><ellipse cx="1017.2" cy="258.6" rx="0.51" ry="2.25"/><ellipse cx="1019.6" cy="258.6" rx="1.02" ry="2.25"/><ellipse cx="1023.5" cy="258.6" rx="1.48" ry="2.25"/><ellipse cx="1028.6" cy="258.6" rx="1.84" ry="2.25"/><ellipse cx="1034.7" cy="258.6" rx="2.10" ry="2.25"/><ellipse cx="1041.4" cy="258.6" rx="2.23" ry="2.25"/><ellipse cx="1048.2" cy="258.6" rx="2.23" ry="2.25"/><ellipse cx="1054.9" cy="258.6" rx="2.10" ry="2.25"/><ellipse cx="1061.0" cy="258.6" rx="1.84" ry="2.25"/><ellipse cx="1066.1" cy="258.6" rx="1.48" ry="2.25"/><ellipse cx="1070.0" cy="258.6" rx="1.02" ry="2.25"/><ellipse cx="1072.4" cy="258.6" rx="0.51" ry="2.25"/><ellipse cx="1018.2" cy="265.3" rx="0.77" ry="2.25"/><ellipse cx="1021.4" cy="265.3" rx="1.26" ry="2.25"/><ellipse cx="1025.9" cy="265.3" rx="1.67" ry="2.25"/><ellipse cx="1031.5" cy="265.3" rx="1.99" ry="2.25"/><ellipse cx="1038.0" cy="265.3" rx="2.18" ry="2.25"/><ellipse cx="1044.8" cy="265.3" rx="2.25" ry="2.25"/><ellipse cx="1051.6" cy="265.3" rx="2.18" ry="2.25"/><ellipse cx="1058.1" cy="265.3" rx="1.99" ry="2.25"/><ellipse cx="1063.7" cy="265.3" rx="1.67" ry="2.25"/><ellipse cx="1068.2" cy="265.3" rx="1.26" ry="2.25"/><ellipse cx="1071.4" cy="265.3" rx="0.77" ry="2.25"/></g><path d="M1015.2,96 Q1015.6,91.6 1045,90.9 Q1074.6,91.6 1075,96 V100.5 Q1075,102 1072,102 H1018 Q1015.2,102 1015.2,100.5 Z" fill="url(#f1cap)" stroke="#5a5f5a" stroke-width="0.8"/><path d="M1016,99.5 Q1045,96.5 1074.2,99.5 V101.2 H1016 Z" fill="#50564f" opacity="0.75"/><path d="M1015.2,266 Q1045,269.5 1075,266 V271 Q1075,275.6 1045,275.8 Q1015.2,275.6 1015.2,271 Z" fill="#5a615c" stroke="#4b514d" stroke-width="0.8"/><path d="M1016,267 Q1045,270.5 1074,267 V268.6 Q1045,272 1016,268.6 Z" fill="#9aa09a" opacity="0.7"/><defs>
<linearGradient id="f2body" x1="0" x2="1" y1="0" y2="0">
 <stop offset="0" stop-color="#4e5655"/>
 <stop offset="0.1" stop-color="#6d7574"/>
 <stop offset="0.35" stop-color="#7f8786"/>
 <stop offset="0.47" stop-color="#c9cecd"/>
 <stop offset="0.55" stop-color="#d8dcda"/>
 <stop offset="0.66" stop-color="#8a9291"/>
 <stop offset="0.9" stop-color="#6f7776"/>
 <stop offset="1" stop-color="#505857"/>
</linearGradient>
<linearGradient id="f2cap" x1="0" x2="1" y1="0" y2="0">
 <stop offset="0" stop-color="#5b605c"/>
 <stop offset="0.3" stop-color="#80847e"/>
 <stop offset="0.5" stop-color="#b3b5ad"/>
 <stop offset="0.7" stop-color="#7f837d"/>
 <stop offset="1" stop-color="#5a5f5b"/>
</linearGradient>
</defs><path d="M996.5,311 H1092.5 V470 Q1044.5,478 996.5,470 Z" fill="url(#f2body)"/><clipPath id="f2clip"><path d="M996.5,311 H1092.5 V470 Q1044.5,478 996.5,470 Z"/></clipPath><g fill="#c6cdcc" clip-path="url(#f2clip)"><ellipse cx="997.1" cy="316.0" rx="0.47" ry="3.05"/><ellipse cx="1002.6" cy="316.0" rx="1.49" ry="3.05"/><ellipse cx="1013.3" cy="316.0" rx="2.32" ry="3.05"/><ellipse cx="1027.9" cy="316.0" rx="2.86" ry="3.05"/><ellipse cx="1044.5" cy="316.0" rx="3.05" ry="3.05"/><ellipse cx="1061.1" cy="316.0" rx="2.86" ry="3.05"/><ellipse cx="1075.7" cy="316.0" rx="2.32" ry="3.05"/><ellipse cx="1086.4" cy="316.0" rx="1.49" ry="3.05"/><ellipse cx="1091.9" cy="316.0" rx="0.47" ry="3.05"/><ellipse cx="999.1" cy="320.9" rx="0.99" ry="3.05"/><ellipse cx="1007.4" cy="320.9" rx="1.93" ry="3.05"/><ellipse cx="1020.2" cy="320.9" rx="2.63" ry="3.05"/><ellipse cx="1036.0" cy="320.9" rx="3.00" ry="3.05"/><ellipse cx="1053.0" cy="320.9" rx="3.00" ry="3.05"/><ellipse cx="1068.8" cy="320.9" rx="2.63" ry="3.05"/><ellipse cx="1081.6" cy="320.9" rx="1.93" ry="3.05"/><ellipse cx="1089.9" cy="320.9" rx="0.99" ry="3.05"/><ellipse cx="997.1" cy="325.7" rx="0.47" ry="3.05"/><ellipse cx="1002.6" cy="325.7" rx="1.49" ry="3.05"/><ellipse cx="1013.3" cy="325.7" rx="2.32" ry="3.05"/><ellipse cx="1027.9" cy="325.7" rx="2.86" ry="3.05"/><ellipse cx="1044.5" cy="325.7" rx="3.05" ry="3.05"/><ellipse cx="1061.1" cy="325.7" rx="2.86" ry="3.05"/><ellipse cx="1075.7" cy="325.7" rx="2.32" ry="3.05"/><ellipse cx="1086.4" cy="325.7" rx="1.49" ry="3.05"/><ellipse cx="1091.9" cy="325.7" rx="0.47" ry="3.05"/><ellipse cx="999.1" cy="330.6" rx="0.99" ry="3.05"/><ellipse cx="1007.4" cy="330.6" rx="1.93" ry="3.05"/><ellipse cx="1020.2" cy="330.6" rx="2.63" ry="3.05"/><ellipse cx="1036.0" cy="330.6" rx="3.00" ry="3.05"/><ellipse cx="1053.0" cy="330.6" rx="3.00" ry="3.05"/><ellipse cx="1068.8" cy="330.6" rx="2.63" ry="3.05"/><ellipse cx="1081.6" cy="330.6" rx="1.93" ry="3.05"/><ellipse cx="1089.9" cy="330.6" rx="0.99" ry="3.05"/><ellipse cx="997.1" cy="335.4" rx="0.47" ry="3.05"/><ellipse cx="1002.6" cy="335.4" rx="1.49" ry="3.05"/><ellipse cx="1013.3" cy="335.4" rx="2.32" ry="3.05"/><ellipse cx="1027.9" cy="335.4" rx="2.86" ry="3.05"/><ellipse cx="1044.5" cy="335.4" rx="3.05" ry="3.05"/><ellipse cx="1061.1" cy="335.4" rx="2.86" ry="3.05"/><ellipse cx="1075.7" cy="335.4" rx="2.32" ry="3.05"/><ellipse cx="1086.4" cy="335.4" rx="1.49" ry="3.05"/><ellipse cx="1091.9" cy="335.4" rx="0.47" ry="3.05"/><ellipse cx="999.1" cy="340.3" rx="0.99" ry="3.05"/><ellipse cx="1007.4" cy="340.3" rx="1.93" ry="3.05"/><ellipse cx="1020.2" cy="340.3" rx="2.63" ry="3.05"/><ellipse cx="1036.0" cy="340.3" rx="3.00" ry="3.05"/><ellipse cx="1053.0" cy="340.3" rx="3.00" ry="3.05"/><ellipse cx="1068.8" cy="340.3" rx="2.63" ry="3.05"/><ellipse cx="1081.6" cy="340.3" rx="1.93" ry="3.05"/><ellipse cx="1089.9" cy="340.3" rx="0.99" ry="3.05"/><ellipse cx="997.1" cy="345.1" rx="0.47" ry="3.05"/><ellipse cx="1002.6" cy="345.1" rx="1.49" ry="3.05"/><ellipse cx="1013.3" cy="345.1" rx="2.32" ry="3.05"/><ellipse cx="1027.9" cy="345.1" rx="2.86" ry="3.05"/><ellipse cx="1044.5" cy="345.1" rx="3.05" ry="3.05"/><ellipse cx="1061.1" cy="345.1" rx="2.86" ry="3.05"/><ellipse cx="1075.7" cy="345.1" rx="2.32" ry="3.05"/><ellipse cx="1086.4" cy="345.1" rx="1.49" ry="3.05"/><ellipse cx="1091.9" cy="345.1" rx="0.47" ry="3.05"/><ellipse cx="999.1" cy="350.0" rx="0.99" ry="3.05"/><ellipse cx="1007.4" cy="350.0" rx="1.93" ry="3.05"/><ellipse cx="1020.2" cy="350.0" rx="2.63" ry="3.05"/><ellipse cx="1036.0" cy="350.0" rx="3.00" ry="3.05"/><ellipse cx="1053.0" cy="350.0" rx="3.00" ry="3.05"/><ellipse cx="1068.8" cy="350.0" rx="2.63" ry="3.05"/><ellipse cx="1081.6" cy="350.0" rx="1.93" ry="3.05"/><ellipse cx="1089.9" cy="350.0" rx="0.99" ry="3.05"/><ellipse cx="997.1" cy="354.8" rx="0.47" ry="3.05"/><ellipse cx="1002.6" cy="354.8" rx="1.49" ry="3.05"/><ellipse cx="1013.3" cy="354.8" rx="2.32" ry="3.05"/><ellipse cx="1027.9" cy="354.8" rx="2.86" ry="3.05"/><ellipse cx="1044.5" cy="354.8" rx="3.05" ry="3.05"/><ellipse cx="1061.1" cy="354.8" rx="2.86" ry="3.05"/><ellipse cx="1075.7" cy="354.8" rx="2.32" ry="3.05"/><ellipse cx="1086.4" cy="354.8" rx="1.49" ry="3.05"/><ellipse cx="1091.9" cy="354.8" rx="0.47" ry="3.05"/><ellipse cx="999.1" cy="359.7" rx="0.99" ry="3.05"/><ellipse cx="1007.4" cy="359.7" rx="1.93" ry="3.05"/><ellipse cx="1020.2" cy="359.7" rx="2.63" ry="3.05"/><ellipse cx="1036.0" cy="359.7" rx="3.00" ry="3.05"/><ellipse cx="1053.0" cy="359.7" rx="3.00" ry="3.05"/><ellipse cx="1068.8" cy="359.7" rx="2.63" ry="3.05"/><ellipse cx="1081.6" cy="359.7" rx="1.93" ry="3.05"/><ellipse cx="1089.9" cy="359.7" rx="0.99" ry="3.05"/><ellipse cx="997.1" cy="364.5" rx="0.47" ry="3.05"/><ellipse cx="1002.6" cy="364.5" rx="1.49" ry="3.05"/><ellipse cx="1013.3" cy="364.5" rx="2.32" ry="3.05"/><ellipse cx="1027.9" cy="364.5" rx="2.86" ry="3.05"/><ellipse cx="1044.5" cy="364.5" rx="3.05" ry="3.05"/><ellipse cx="1061.1" cy="364.5" rx="2.86" ry="3.05"/><ellipse cx="1075.7" cy="364.5" rx="2.32" ry="3.05"/><ellipse cx="1086.4" cy="364.5" rx="1.49" ry="3.05"/><ellipse cx="1091.9" cy="364.5" rx="0.47" ry="3.05"/><ellipse cx="999.1" cy="369.4" rx="0.99" ry="3.05"/><ellipse cx="1007.4" cy="369.4" rx="1.93" ry="3.05"/><ellipse cx="1020.2" cy="369.4" rx="2.63" ry="3.05"/><ellipse cx="1036.0" cy="369.4" rx="3.00" ry="3.05"/><ellipse cx="1053.0" cy="369.4" rx="3.00" ry="3.05"/><ellipse cx="1068.8" cy="369.4" rx="2.63" ry="3.05"/><ellipse cx="1081.6" cy="369.4" rx="1.93" ry="3.05"/><ellipse cx="1089.9" cy="369.4" rx="0.99" ry="3.05"/><ellipse cx="997.1" cy="374.2" rx="0.47" ry="3.05"/><ellipse cx="1002.6" cy="374.2" rx="1.49" ry="3.05"/><ellipse cx="1013.3" cy="374.2" rx="2.32" ry="3.05"/><ellipse cx="1027.9" cy="374.2" rx="2.86" ry="3.05"/><ellipse cx="1044.5" cy="374.2" rx="3.05" ry="3.05"/><ellipse cx="1061.1" cy="374.2" rx="2.86" ry="3.05"/><ellipse cx="1075.7" cy="374.2" rx="2.32" ry="3.05"/><ellipse cx="1086.4" cy="374.2" rx="1.49" ry="3.05"/><ellipse cx="1091.9" cy="374.2" rx="0.47" ry="3.05"/><ellipse cx="999.1" cy="379.1" rx="0.99" ry="3.05"/><ellipse cx="1007.4" cy="379.1" rx="1.93" ry="3.05"/><ellipse cx="1020.2" cy="379.1" rx="2.63" ry="3.05"/><ellipse cx="1036.0" cy="379.1" rx="3.00" ry="3.05"/><ellipse cx="1053.0" cy="379.1" rx="3.00" ry="3.05"/><ellipse cx="1068.8" cy="379.1" rx="2.63" ry="3.05"/><ellipse cx="1081.6" cy="379.1" rx="1.93" ry="3.05"/><ellipse cx="1089.9" cy="379.1" rx="0.99" ry="3.05"/><ellipse cx="997.1" cy="383.9" rx="0.47" ry="3.05"/><ellipse cx="1002.6" cy="383.9" rx="1.49" ry="3.05"/><ellipse cx="1013.3" cy="383.9" rx="2.32" ry="3.05"/><ellipse cx="1027.9" cy="383.9" rx="2.86" ry="3.05"/><ellipse cx="1044.5" cy="383.9" rx="3.05" ry="3.05"/><ellipse cx="1061.1" cy="383.9" rx="2.86" ry="3.05"/><ellipse cx="1075.7" cy="383.9" rx="2.32" ry="3.05"/><ellipse cx="1086.4" cy="383.9" rx="1.49" ry="3.05"/><ellipse cx="1091.9" cy="383.9" rx="0.47" ry="3.05"/><ellipse cx="999.1" cy="388.8" rx="0.99" ry="3.05"/><ellipse cx="1007.4" cy="388.8" rx="1.93" ry="3.05"/><ellipse cx="1020.2" cy="388.8" rx="2.63" ry="3.05"/><ellipse cx="1036.0" cy="388.8" rx="3.00" ry="3.05"/><ellipse cx="1053.0" cy="388.8" rx="3.00" ry="3.05"/><ellipse cx="1068.8" cy="388.8" rx="2.63" ry="3.05"/><ellipse cx="1081.6" cy="388.8" rx="1.93" ry="3.05"/><ellipse cx="1089.9" cy="388.8" rx="0.99" ry="3.05"/><ellipse cx="997.1" cy="393.6" rx="0.47" ry="3.05"/><ellipse cx="1002.6" cy="393.6" rx="1.49" ry="3.05"/><ellipse cx="1013.3" cy="393.6" rx="2.32" ry="3.05"/><ellipse cx="1027.9" cy="393.6" rx="2.86" ry="3.05"/><ellipse cx="1044.5" cy="393.6" rx="3.05" ry="3.05"/><ellipse cx="1061.1" cy="393.6" rx="2.86" ry="3.05"/><ellipse cx="1075.7" cy="393.6" rx="2.32" ry="3.05"/><ellipse cx="1086.4" cy="393.6" rx="1.49" ry="3.05"/><ellipse cx="1091.9" cy="393.6" rx="0.47" ry="3.05"/><ellipse cx="999.1" cy="398.5" rx="0.99" ry="3.05"/><ellipse cx="1007.4" cy="398.5" rx="1.93" ry="3.05"/><ellipse cx="1020.2" cy="398.5" rx="2.63" ry="3.05"/><ellipse cx="1036.0" cy="398.5" rx="3.00" ry="3.05"/><ellipse cx="1053.0" cy="398.5" rx="3.00" ry="3.05"/><ellipse cx="1068.8" cy="398.5" rx="2.63" ry="3.05"/><ellipse cx="1081.6" cy="398.5" rx="1.93" ry="3.05"/><ellipse cx="1089.9" cy="398.5" rx="0.99" ry="3.05"/><ellipse cx="997.1" cy="403.3" rx="0.47" ry="3.05"/><ellipse cx="1002.6" cy="403.3" rx="1.49" ry="3.05"/><ellipse cx="1013.3" cy="403.3" rx="2.32" ry="3.05"/><ellipse cx="1027.9" cy="403.3" rx="2.86" ry="3.05"/><ellipse cx="1044.5" cy="403.3" rx="3.05" ry="3.05"/><ellipse cx="1061.1" cy="403.3" rx="2.86" ry="3.05"/><ellipse cx="1075.7" cy="403.3" rx="2.32" ry="3.05"/><ellipse cx="1086.4" cy="403.3" rx="1.49" ry="3.05"/><ellipse cx="1091.9" cy="403.3" rx="0.47" ry="3.05"/><ellipse cx="999.1" cy="408.2" rx="0.99" ry="3.05"/><ellipse cx="1007.4" cy="408.2" rx="1.93" ry="3.05"/><ellipse cx="1020.2" cy="408.2" rx="2.63" ry="3.05"/><ellipse cx="1036.0" cy="408.2" rx="3.00" ry="3.05"/><ellipse cx="1053.0" cy="408.2" rx="3.00" ry="3.05"/><ellipse cx="1068.8" cy="408.2" rx="2.63" ry="3.05"/><ellipse cx="1081.6" cy="408.2" rx="1.93" ry="3.05"/><ellipse cx="1089.9" cy="408.2" rx="0.99" ry="3.05"/><ellipse cx="997.1" cy="413.0" rx="0.47" ry="3.05"/><ellipse cx="1002.6" cy="413.0" rx="1.49" ry="3.05"/><ellipse cx="1013.3" cy="413.0" rx="2.32" ry="3.05"/><ellipse cx="1027.9" cy="413.0" rx="2.86" ry="3.05"/><ellipse cx="1044.5" cy="413.0" rx="3.05" ry="3.05"/><ellipse cx="1061.1" cy="413.0" rx="2.86" ry="3.05"/><ellipse cx="1075.7" cy="413.0" rx="2.32" ry="3.05"/><ellipse cx="1086.4" cy="413.0" rx="1.49" ry="3.05"/><ellipse cx="1091.9" cy="413.0" rx="0.47" ry="3.05"/><ellipse cx="999.1" cy="417.9" rx="0.99" ry="3.05"/><ellipse cx="1007.4" cy="417.9" rx="1.93" ry="3.05"/><ellipse cx="1020.2" cy="417.9" rx="2.63" ry="3.05"/><ellipse cx="1036.0" cy="417.9" rx="3.00" ry="3.05"/><ellipse cx="1053.0" cy="417.9" rx="3.00" ry="3.05"/><ellipse cx="1068.8" cy="417.9" rx="2.63" ry="3.05"/><ellipse cx="1081.6" cy="417.9" rx="1.93" ry="3.05"/><ellipse cx="1089.9" cy="417.9" rx="0.99" ry="3.05"/><ellipse cx="997.1" cy="422.7" rx="0.47" ry="3.05"/><ellipse cx="1002.6" cy="422.7" rx="1.49" ry="3.05"/><ellipse cx="1013.3" cy="422.7" rx="2.32" ry="3.05"/><ellipse cx="1027.9" cy="422.7" rx="2.86" ry="3.05"/><ellipse cx="1044.5" cy="422.7" rx="3.05" ry="3.05"/><ellipse cx="1061.1" cy="422.7" rx="2.86" ry="3.05"/><ellipse cx="1075.7" cy="422.7" rx="2.32" ry="3.05"/><ellipse cx="1086.4" cy="422.7" rx="1.49" ry="3.05"/><ellipse cx="1091.9" cy="422.7" rx="0.47" ry="3.05"/><ellipse cx="999.1" cy="427.6" rx="0.99" ry="3.05"/><ellipse cx="1007.4" cy="427.6" rx="1.93" ry="3.05"/><ellipse cx="1020.2" cy="427.6" rx="2.63" ry="3.05"/><ellipse cx="1036.0" cy="427.6" rx="3.00" ry="3.05"/><ellipse cx="1053.0" cy="427.6" rx="3.00" ry="3.05"/><ellipse cx="1068.8" cy="427.6" rx="2.63" ry="3.05"/><ellipse cx="1081.6" cy="427.6" rx="1.93" ry="3.05"/><ellipse cx="1089.9" cy="427.6" rx="0.99" ry="3.05"/><ellipse cx="997.1" cy="432.4" rx="0.47" ry="3.05"/><ellipse cx="1002.6" cy="432.4" rx="1.49" ry="3.05"/><ellipse cx="1013.3" cy="432.4" rx="2.32" ry="3.05"/><ellipse cx="1027.9" cy="432.4" rx="2.86" ry="3.05"/><ellipse cx="1044.5" cy="432.4" rx="3.05" ry="3.05"/><ellipse cx="1061.1" cy="432.4" rx="2.86" ry="3.05"/><ellipse cx="1075.7" cy="432.4" rx="2.32" ry="3.05"/><ellipse cx="1086.4" cy="432.4" rx="1.49" ry="3.05"/><ellipse cx="1091.9" cy="432.4" rx="0.47" ry="3.05"/><ellipse cx="999.1" cy="437.3" rx="0.99" ry="3.05"/><ellipse cx="1007.4" cy="437.3" rx="1.93" ry="3.05"/><ellipse cx="1020.2" cy="437.3" rx="2.63" ry="3.05"/><ellipse cx="1036.0" cy="437.3" rx="3.00" ry="3.05"/><ellipse cx="1053.0" cy="437.3" rx="3.00" ry="3.05"/><ellipse cx="1068.8" cy="437.3" rx="2.63" ry="3.05"/><ellipse cx="1081.6" cy="437.3" rx="1.93" ry="3.05"/><ellipse cx="1089.9" cy="437.3" rx="0.99" ry="3.05"/><ellipse cx="997.1" cy="442.1" rx="0.47" ry="3.05"/><ellipse cx="1002.6" cy="442.1" rx="1.49" ry="3.05"/><ellipse cx="1013.3" cy="442.1" rx="2.32" ry="3.05"/><ellipse cx="1027.9" cy="442.1" rx="2.86" ry="3.05"/><ellipse cx="1044.5" cy="442.1" rx="3.05" ry="3.05"/><ellipse cx="1061.1" cy="442.1" rx="2.86" ry="3.05"/><ellipse cx="1075.7" cy="442.1" rx="2.32" ry="3.05"/><ellipse cx="1086.4" cy="442.1" rx="1.49" ry="3.05"/><ellipse cx="1091.9" cy="442.1" rx="0.47" ry="3.05"/><ellipse cx="999.1" cy="447.0" rx="0.99" ry="3.05"/><ellipse cx="1007.4" cy="447.0" rx="1.93" ry="3.05"/><ellipse cx="1020.2" cy="447.0" rx="2.63" ry="3.05"/><ellipse cx="1036.0" cy="447.0" rx="3.00" ry="3.05"/><ellipse cx="1053.0" cy="447.0" rx="3.00" ry="3.05"/><ellipse cx="1068.8" cy="447.0" rx="2.63" ry="3.05"/><ellipse cx="1081.6" cy="447.0" rx="1.93" ry="3.05"/><ellipse cx="1089.9" cy="447.0" rx="0.99" ry="3.05"/><ellipse cx="997.1" cy="451.8" rx="0.47" ry="3.05"/><ellipse cx="1002.6" cy="451.8" rx="1.49" ry="3.05"/><ellipse cx="1013.3" cy="451.8" rx="2.32" ry="3.05"/><ellipse cx="1027.9" cy="451.8" rx="2.86" ry="3.05"/><ellipse cx="1044.5" cy="451.8" rx="3.05" ry="3.05"/><ellipse cx="1061.1" cy="451.8" rx="2.86" ry="3.05"/><ellipse cx="1075.7" cy="451.8" rx="2.32" ry="3.05"/><ellipse cx="1086.4" cy="451.8" rx="1.49" ry="3.05"/><ellipse cx="1091.9" cy="451.8" rx="0.47" ry="3.05"/><ellipse cx="999.1" cy="456.7" rx="0.99" ry="3.05"/><ellipse cx="1007.4" cy="456.7" rx="1.93" ry="3.05"/><ellipse cx="1020.2" cy="456.7" rx="2.63" ry="3.05"/><ellipse cx="1036.0" cy="456.7" rx="3.00" ry="3.05"/><ellipse cx="1053.0" cy="456.7" rx="3.00" ry="3.05"/><ellipse cx="1068.8" cy="456.7" rx="2.63" ry="3.05"/><ellipse cx="1081.6" cy="456.7" rx="1.93" ry="3.05"/><ellipse cx="1089.9" cy="456.7" rx="0.99" ry="3.05"/><ellipse cx="997.1" cy="461.5" rx="0.47" ry="3.05"/><ellipse cx="1002.6" cy="461.5" rx="1.49" ry="3.05"/><ellipse cx="1013.3" cy="461.5" rx="2.32" ry="3.05"/><ellipse cx="1027.9" cy="461.5" rx="2.86" ry="3.05"/><ellipse cx="1044.5" cy="461.5" rx="3.05" ry="3.05"/><ellipse cx="1061.1" cy="461.5" rx="2.86" ry="3.05"/><ellipse cx="1075.7" cy="461.5" rx="2.32" ry="3.05"/><ellipse cx="1086.4" cy="461.5" rx="1.49" ry="3.05"/><ellipse cx="1091.9" cy="461.5" rx="0.47" ry="3.05"/><ellipse cx="999.1" cy="466.4" rx="0.99" ry="3.05"/><ellipse cx="1007.4" cy="466.4" rx="1.93" ry="3.05"/><ellipse cx="1020.2" cy="466.4" rx="2.63" ry="3.05"/><ellipse cx="1036.0" cy="466.4" rx="3.00" ry="3.05"/><ellipse cx="1053.0" cy="466.4" rx="3.00" ry="3.05"/><ellipse cx="1068.8" cy="466.4" rx="2.63" ry="3.05"/><ellipse cx="1081.6" cy="466.4" rx="1.93" ry="3.05"/><ellipse cx="1089.9" cy="466.4" rx="0.99" ry="3.05"/><ellipse cx="997.1" cy="471.2" rx="0.47" ry="3.05"/><ellipse cx="1002.6" cy="471.2" rx="1.49" ry="3.05"/><ellipse cx="1013.3" cy="471.2" rx="2.32" ry="3.05"/><ellipse cx="1027.9" cy="471.2" rx="2.86" ry="3.05"/><ellipse cx="1044.5" cy="471.2" rx="3.05" ry="3.05"/><ellipse cx="1061.1" cy="471.2" rx="2.86" ry="3.05"/><ellipse cx="1075.7" cy="471.2" rx="2.32" ry="3.05"/><ellipse cx="1086.4" cy="471.2" rx="1.49" ry="3.05"/><ellipse cx="1091.9" cy="471.2" rx="0.47" ry="3.05"/><ellipse cx="999.1" cy="476.1" rx="0.99" ry="3.05"/><ellipse cx="1007.4" cy="476.1" rx="1.93" ry="3.05"/><ellipse cx="1020.2" cy="476.1" rx="2.63" ry="3.05"/><ellipse cx="1036.0" cy="476.1" rx="3.00" ry="3.05"/><ellipse cx="1053.0" cy="476.1" rx="3.00" ry="3.05"/><ellipse cx="1068.8" cy="476.1" rx="2.63" ry="3.05"/><ellipse cx="1081.6" cy="476.1" rx="1.93" ry="3.05"/><ellipse cx="1089.9" cy="476.1" rx="0.99" ry="3.05"/></g><path d="M991,304 Q993,299.3 1045,299 Q1097.6,299.3 1099.6,304 V310 Q1099.6,313.4 1095,313.4 H995 Q991,313.4 991,310 Z" fill="url(#f2cap)" stroke="#535853" stroke-width="0.9"/><path d="M991.5,309.6 Q1045,306 1099,309.6 V312.8 H991.5 Z" fill="#454b47" opacity="0.65"/><path d="M991,462.5 Q991,459 995,459.6 L996.5,460 V470 Q1044.5,478 1092.5,470 V460 L1095.5,459.6 Q1099.6,459 1099.6,462.5 V474 Q1099.6,483.2 1045,483.2 Q991,483.2 991,474 Z" fill="#5b625f"/><path d="M993,474 Q1045,481.5 1097.6,474" fill="none" stroke="#7c8380" stroke-width="0.9" opacity="0.7"/></svg>
<svg style="position:absolute;left:985px;top:503px;overflow:visible;will-change:transform" width="125" height="125" viewBox="0 0 125 125"><defs><linearGradient id="gbase" x1="0" x2="1"><stop offset="0" stop-color="#2c3131"/><stop offset="0.15" stop-color="#505656"/><stop offset="0.3" stop-color="#1d2121"/><stop offset="0.7" stop-color="#1d2121"/><stop offset="0.85" stop-color="#4a5050"/><stop offset="1" stop-color="#252929"/></linearGradient><radialGradient id="gring" cx="0.5" cy="0.55" r="0.5"><stop offset="0.74" stop-color="#1c2020"/><stop offset="0.8" stop-color="#414747"/><stop offset="0.93" stop-color="#4a5050"/><stop offset="1" stop-color="#262a2a"/></radialGradient></defs><rect x="18" y="92" width="87" height="30" fill="url(#gbase)"/><ellipse cx="62.5" cy="60.5" rx="59.3" ry="57.5" fill="url(#gring)"/><circle cx="62.5" cy="62.7" r="44.5" fill="#161a1a"/><circle cx="62.5" cy="62.7" r="40.5" fill="#0f1413"/><line x1="44.76" y1="83.84" x2="41.29" y2="87.98" stroke="#e6e6e6" stroke-width="0.85"/><line x1="42.98" y1="82.22" x2="40.44" y2="84.76" stroke="#e6e6e6" stroke-width="0.85"/><line x1="41.36" y1="80.44" x2="37.22" y2="83.91" stroke="#e6e6e6" stroke-width="0.85"/><line x1="39.89" y1="78.53" x2="36.94" y2="80.60" stroke="#e6e6e6" stroke-width="0.85"/><line x1="38.60" y1="76.50" x2="33.92" y2="79.20" stroke="#e6e6e6" stroke-width="0.85"/><line x1="37.49" y1="74.36" x2="34.22" y2="75.89" stroke="#e6e6e6" stroke-width="0.85"/><line x1="36.56" y1="72.14" x2="31.49" y2="73.99" stroke="#e6e6e6" stroke-width="0.85"/><line x1="35.84" y1="69.84" x2="32.36" y2="70.78" stroke="#e6e6e6" stroke-width="0.85"/><line x1="35.32" y1="67.49" x2="30.00" y2="68.43" stroke="#e6e6e6" stroke-width="0.85"/><line x1="35.01" y1="65.11" x2="31.42" y2="65.42" stroke="#e6e6e6" stroke-width="0.85"/><line x1="34.90" y1="62.70" x2="29.50" y2="62.70" stroke="#e6e6e6" stroke-width="0.85"/><line x1="35.01" y1="60.29" x2="31.42" y2="59.98" stroke="#e6e6e6" stroke-width="0.85"/><line x1="35.32" y1="57.91" x2="30.00" y2="56.97" stroke="#e6e6e6" stroke-width="0.85"/><line x1="35.84" y1="55.56" x2="32.36" y2="54.62" stroke="#e6e6e6" stroke-width="0.85"/><line x1="36.56" y1="53.26" x2="31.49" y2="51.41" stroke="#e6e6e6" stroke-width="0.85"/><line x1="37.49" y1="51.04" x2="34.22" y2="49.51" stroke="#e6e6e6" stroke-width="0.85"/><line x1="38.60" y1="48.90" x2="33.92" y2="46.20" stroke="#e6e6e6" stroke-width="0.85"/><line x1="39.89" y1="46.87" x2="36.94" y2="44.80" stroke="#e6e6e6" stroke-width="0.85"/><line x1="41.36" y1="44.96" x2="37.22" y2="41.49" stroke="#cfe8d6" stroke-width="0.85"/><line x1="42.98" y1="43.18" x2="40.44" y2="40.64" stroke="#cfe8d6" stroke-width="0.85"/><line x1="44.76" y1="41.56" x2="41.29" y2="37.42" stroke="#cfe8d6" stroke-width="0.85"/><line x1="46.67" y1="40.09" x2="44.60" y2="37.14" stroke="#cfe8d6" stroke-width="0.85"/><line x1="48.70" y1="38.80" x2="46.00" y2="34.12" stroke="#cfe8d6" stroke-width="0.85"/><line x1="50.84" y1="37.69" x2="49.31" y2="34.42" stroke="#cfe8d6" stroke-width="0.85"/><line x1="53.06" y1="36.76" x2="51.21" y2="31.69" stroke="#cfe8d6" stroke-width="0.85"/><line x1="55.36" y1="36.04" x2="54.42" y2="32.56" stroke="#cfe8d6" stroke-width="0.85"/><line x1="57.71" y1="35.52" x2="56.77" y2="30.20" stroke="#cfe8d6" stroke-width="0.85"/><line x1="60.09" y1="35.21" x2="59.78" y2="31.62" stroke="#cfe8d6" stroke-width="0.85"/><line x1="62.50" y1="35.10" x2="62.50" y2="29.70" stroke="#cfe8d6" stroke-width="0.85"/><line x1="64.91" y1="35.21" x2="65.22" y2="31.62" stroke="#cfe8d6" stroke-width="0.85"/><line x1="67.29" y1="35.52" x2="68.23" y2="30.20" stroke="#cfe8d6" stroke-width="0.85"/><line x1="69.64" y1="36.04" x2="70.58" y2="32.56" stroke="#cfe8d6" stroke-width="0.85"/><line x1="71.94" y1="36.76" x2="73.79" y2="31.69" stroke="#cfe8d6" stroke-width="0.85"/><line x1="74.16" y1="37.69" x2="75.69" y2="34.42" stroke="#cfe8d6" stroke-width="0.85"/><line x1="76.30" y1="38.80" x2="79.00" y2="34.12" stroke="#cfe8d6" stroke-width="0.85"/><line x1="78.33" y1="40.09" x2="80.40" y2="37.14" stroke="#cfe8d6" stroke-width="0.85"/><line x1="80.24" y1="41.56" x2="83.71" y2="37.42" stroke="#cfe8d6" stroke-width="0.85"/><line x1="82.02" y1="43.18" x2="84.56" y2="40.64" stroke="#cfe8d6" stroke-width="0.85"/><line x1="83.64" y1="44.96" x2="87.78" y2="41.49" stroke="#cfe8d6" stroke-width="0.85"/><line x1="85.11" y1="46.87" x2="88.06" y2="44.80" stroke="#e6e6e6" stroke-width="0.85"/><line x1="86.40" y1="48.90" x2="91.08" y2="46.20" stroke="#e6e6e6" stroke-width="0.85"/><line x1="87.51" y1="51.04" x2="90.78" y2="49.51" stroke="#e6e6e6" stroke-width="0.85"/><line x1="88.44" y1="53.26" x2="93.51" y2="51.41" stroke="#e6e6e6" stroke-width="0.85"/><line x1="89.16" y1="55.56" x2="92.64" y2="54.62" stroke="#e6e6e6" stroke-width="0.85"/><line x1="89.68" y1="57.91" x2="95.00" y2="56.97" stroke="#e6e6e6" stroke-width="0.85"/><line x1="89.99" y1="60.29" x2="93.58" y2="59.98" stroke="#e6e6e6" stroke-width="0.85"/><line x1="90.10" y1="62.70" x2="95.50" y2="62.70" stroke="#e6e6e6" stroke-width="0.85"/><line x1="89.99" y1="65.11" x2="93.58" y2="65.42" stroke="#e6e6e6" stroke-width="0.85"/><line x1="89.68" y1="67.49" x2="95.00" y2="68.43" stroke="#e6e6e6" stroke-width="0.85"/><line x1="89.16" y1="69.84" x2="92.64" y2="70.78" stroke="#e6e6e6" stroke-width="0.85"/><line x1="88.44" y1="72.14" x2="93.51" y2="73.99" stroke="#e6e6e6" stroke-width="0.85"/><line x1="87.51" y1="74.36" x2="90.78" y2="75.89" stroke="#e6e6e6" stroke-width="0.85"/><line x1="86.40" y1="76.50" x2="91.08" y2="79.20" stroke="#e6e6e6" stroke-width="0.85"/><line x1="85.11" y1="78.53" x2="88.06" y2="80.60" stroke="#e6e6e6" stroke-width="0.85"/><line x1="83.64" y1="80.44" x2="87.78" y2="83.91" stroke="#e6e6e6" stroke-width="0.85"/><line x1="82.02" y1="82.22" x2="84.56" y2="84.76" stroke="#e6e6e6" stroke-width="0.85"/><line x1="80.24" y1="83.84" x2="83.71" y2="87.98" stroke="#e6e6e6" stroke-width="0.85"/><line x1="49.32" y1="78.40" x2="47.72" y2="80.32" stroke="#4f8a66" stroke-width="0.9" opacity="0.8"/><line x1="46.80" y1="75.88" x2="44.88" y2="77.48" stroke="#4f8a66" stroke-width="0.9" opacity="0.8"/><line x1="44.75" y1="72.95" x2="42.58" y2="74.20" stroke="#4f8a66" stroke-width="0.9" opacity="0.8"/><line x1="43.24" y1="69.71" x2="40.89" y2="70.57" stroke="#4f8a66" stroke-width="0.9" opacity="0.8"/><line x1="42.31" y1="66.26" x2="39.85" y2="66.69" stroke="#4f8a66" stroke-width="0.9" opacity="0.8"/><line x1="42.00" y1="62.70" x2="39.50" y2="62.70" stroke="#4f8a66" stroke-width="0.9" opacity="0.8"/><line x1="42.31" y1="59.14" x2="39.85" y2="58.71" stroke="#4f8a66" stroke-width="0.9" opacity="0.8"/><line x1="43.24" y1="55.69" x2="40.89" y2="54.83" stroke="#4f8a66" stroke-width="0.9" opacity="0.8"/><line x1="44.75" y1="52.45" x2="42.58" y2="51.20" stroke="#4f8a66" stroke-width="0.9" opacity="0.8"/><line x1="46.80" y1="49.52" x2="44.88" y2="47.92" stroke="#4f8a66" stroke-width="0.9" opacity="0.8"/><line x1="49.32" y1="47.00" x2="47.72" y2="45.08" stroke="#4f8a66" stroke-width="0.9" opacity="0.8"/><line x1="52.25" y1="44.95" x2="51.00" y2="42.78" stroke="#4f8a66" stroke-width="0.9" opacity="0.8"/><line x1="55.49" y1="43.44" x2="54.63" y2="41.09" stroke="#4f8a66" stroke-width="0.9" opacity="0.8"/><line x1="58.94" y1="42.51" x2="58.51" y2="40.05" stroke="#4f8a66" stroke-width="0.9" opacity="0.8"/><line x1="62.50" y1="42.20" x2="62.50" y2="39.70" stroke="#4f8a66" stroke-width="0.9" opacity="0.8"/><line x1="66.06" y1="42.51" x2="66.49" y2="40.05" stroke="#4f8a66" stroke-width="0.9" opacity="0.8"/><line x1="69.51" y1="43.44" x2="70.37" y2="41.09" stroke="#4f8a66" stroke-width="0.9" opacity="0.8"/><line x1="72.75" y1="44.95" x2="74.00" y2="42.78" stroke="#4f8a66" stroke-width="0.9" opacity="0.8"/><line x1="75.68" y1="47.00" x2="77.28" y2="45.08" stroke="#4f8a66" stroke-width="0.9" opacity="0.8"/><line x1="78.20" y1="49.52" x2="80.12" y2="47.92" stroke="#4f8a66" stroke-width="0.9" opacity="0.8"/><line x1="80.25" y1="52.45" x2="82.42" y2="51.20" stroke="#4f8a66" stroke-width="0.9" opacity="0.8"/><line x1="81.76" y1="55.69" x2="84.11" y2="54.83" stroke="#4f8a66" stroke-width="0.9" opacity="0.8"/><line x1="82.69" y1="59.14" x2="85.15" y2="58.71" stroke="#4f8a66" stroke-width="0.9" opacity="0.8"/><line x1="83.00" y1="62.70" x2="85.50" y2="62.70" stroke="#4f8a66" stroke-width="0.9" opacity="0.8"/><line x1="82.69" y1="66.26" x2="85.15" y2="66.69" stroke="#4f8a66" stroke-width="0.9" opacity="0.8"/><line x1="81.76" y1="69.71" x2="84.11" y2="70.57" stroke="#4f8a66" stroke-width="0.9" opacity="0.8"/><line x1="80.25" y1="72.95" x2="82.42" y2="74.20" stroke="#4f8a66" stroke-width="0.9" opacity="0.8"/><line x1="78.20" y1="75.88" x2="80.12" y2="77.48" stroke="#4f8a66" stroke-width="0.9" opacity="0.8"/><line x1="75.68" y1="78.40" x2="77.28" y2="80.32" stroke="#4f8a66" stroke-width="0.9" opacity="0.8"/><path d="M46.24,82.08 A25.3,25.3 0 0 1 41.78,48.19" fill="none" stroke="#d0405a" stroke-width="3.0"/><path d="M83.22,48.19 A25.3,25.3 0 0 1 78.76,82.08" fill="none" stroke="#d0405a" stroke-width="3.0"/><path d="M46.24,82.08 A25.3,25.3 0 0 1 41.78,48.19" fill="none" stroke="#f07a8a" stroke-width="0.5"/><path d="M83.22,48.19 A25.3,25.3 0 0 1 78.76,82.08" fill="none" stroke="#f07a8a" stroke-width="0.5"/><path d="M41.78,48.19 A25.3,25.3 0 0 1 83.22,48.19" fill="none" stroke="#2e9c5c" stroke-width="2.6"/><line x1="48.45" y1="78.31" x2="40.08" y2="87.60" stroke="#f0f0f0" stroke-width="1.4"/><line x1="76.55" y1="78.31" x2="84.92" y2="87.60" stroke="#f0f0f0" stroke-width="1.4"/><path d="M62.0,32.2 L63.2,32.2 L63.9,62.7 L61.3,62.7 Z" fill="#f4f4f4"/><rect x="61.1" y="32.2" width="2.8" height="3" fill="#fff"/><rect x="61.2" y="62.7" width="2.6" height="15" fill="#f0f0f0"/><circle cx="62.5" cy="62.7" r="5" fill="#f2f2f2"/><circle cx="62.5" cy="62.7" r="0.9" fill="#666"/><circle cx="56.4" cy="78.7" r="2.3" fill="#a88c6a"/><circle cx="69.2" cy="78.7" r="2.3" fill="#a88c6a"/><g opacity="0.98"><text x="62.5" y="100.3" text-anchor="middle" font-family="Liberation Sans" font-weight="bold" font-size="8" textLength="18.5" lengthAdjust="spacingAndGlyphs" fill="#e6e6e6">ewo</text><rect x="41" y="71.6" width="43" height="1.3" fill="#8a8a8a" opacity="0.45"/><text x="62.5" y="29" text-anchor="middle" font-family="Liberation Sans" font-size="4.3" fill="#c6c6c6">0</text><text x="42" y="37" text-anchor="middle" font-family="Liberation Sans" font-size="4.3" fill="#c6c6c6">05</text><text x="83" y="37" text-anchor="middle" font-family="Liberation Sans" font-size="4.3" fill="#c6c6c6">05</text><text x="29.5" y="51.5" text-anchor="middle" font-family="Liberation Sans" font-size="4.3" fill="#c6c6c6">10</text><text x="95.5" y="51.5" text-anchor="middle" font-family="Liberation Sans" font-size="4.3" fill="#c6c6c6">10</text><text x="28.5" y="72.5" text-anchor="middle" font-family="Liberation Sans" font-size="4.3" fill="#c6c6c6">15</text><text x="96.5" y="72.5" text-anchor="middle" font-family="Liberation Sans" font-size="4.3" fill="#c6c6c6">15</text><text x="37.5" y="93" text-anchor="middle" font-family="Liberation Sans" font-size="4.3" fill="#c6c6c6">20</text><text x="86.5" y="93" text-anchor="middle" font-family="Liberation Sans" font-size="4.3" fill="#c6c6c6">20</text><text x="62.5" y="83" text-anchor="middle" font-family="Liberation Sans" font-size="4.3" fill="#c6c6c6">m</text><text x="62.5" y="87" text-anchor="middle" font-family="Liberation Sans" font-size="4.3" fill="#c6c6c6">v</text><text x="62.5" y="92" text-anchor="middle" font-family="Liberation Sans" font-size="4.3" fill="#c6c6c6">bn</text></g></svg>
<svg style="position:absolute;left:0;top:0;overflow:visible;will-change:transform" width="1364" height="1767">
<defs>
<linearGradient id="brup" x1="0" x2="0" y1="0" y2="1">
 <stop offset="0" stop-color="#505356"/>
 <stop offset="1" stop-color="#45484b"/>
</linearGradient>
<linearGradient id="brlow" x1="0" x2="1" y1="0" y2="0">
 <stop offset="0" stop-color="#56595c"/>
 <stop offset="0.3" stop-color="#64676a"/>
 <stop offset="0.44" stop-color="#707376"/>
 <stop offset="0.56" stop-color="#6e7174"/>
 <stop offset="0.72" stop-color="#626568"/>
 <stop offset="1" stop-color="#56595c"/>
</linearGradient>
<linearGradient id="screw" x1="0" x2="1">
 <stop offset="0" stop-color="#34383a"/>
 <stop offset="0.18" stop-color="#5a5e60"/>
 <stop offset="0.42" stop-color="#b3b6b8"/>
 <stop offset="0.62" stop-color="#55595b"/>
 <stop offset="0.85" stop-color="#6d7173"/>
 <stop offset="1" stop-color="#323638"/>
</linearGradient>
</defs>
<path d="M995.1,701.2 H1095.4 L1094.3,749.8 H998.2 Q996,735 995.4,712 Z" fill="url(#brup)"/>
<path d="M995.1,701.2 H1095.4 L1095.3,704.8 H995.2 Z" fill="#7e8184"/>
<path d="M998.2,749.5 H1094.3 L1094.6,793 H997 Q996.6,770 998.2,749.5 Z" fill="url(#brlow)"/>
<rect x="998" y="749.4" width="96.4" height="1.9" fill="#8c8f92"/>
<rect x="997" y="790.9" width="97.6" height="1.8" fill="#85888b"/>
<rect x="1003" y="709.5" width="12.3" height="33.5" rx="6" fill="#fbfbfb"/>
<rect x="1075.6" y="709.5" width="12" height="33.5" rx="6" fill="#fbfbfb"/>
<rect x="1004" y="739.5" width="10.5" height="3.5" rx="1.5" fill="#3a3d40" opacity="0.6"/>
<rect x="1076.6" y="739.5" width="10.2" height="3.5" rx="1.5" fill="#3a3d40" opacity="0.6"/>
<rect x="1005.6" y="776.8" width="9.6" height="1.8" fill="#d0d2d4"/>
<rect x="1005.6" y="781.8" width="9.6" height="1.8" fill="#d0d2d4"/>
<rect x="1006" y="778.6" width="9" height="3.2" fill="#3e4144"/>
<rect x="1076.5" y="776.3" width="10" height="1.8" fill="#d0d2d4"/>
<rect x="1076.5" y="781.3" width="10" height="1.8" fill="#d0d2d4"/>
<rect x="1077" y="778.1" width="9" height="3.2" fill="#3e4144"/>
<rect x="956.2" y="753" width="17.7" height="12.6" rx="2.8" fill="url(#screw)"/>
<rect x="959" y="765" width="10" height="21.2" rx="1" fill="url(#screw)"/>
<rect x="1117" y="753" width="17" height="12.6" rx="2.8" fill="url(#screw)"/>
<rect x="1120" y="765" width="10" height="21.2" rx="1" fill="url(#screw)"/>
<rect x="959.3" y="767.0" width="9.4" height="0.8" fill="#2f3335" opacity="0.55"/><rect x="1120.3" y="767.0" width="9.4" height="0.8" fill="#2f3335" opacity="0.55"/><rect x="959.3" y="769.2" width="9.4" height="0.8" fill="#2f3335" opacity="0.55"/><rect x="1120.3" y="769.2" width="9.4" height="0.8" fill="#2f3335" opacity="0.55"/><rect x="959.3" y="771.4" width="9.4" height="0.8" fill="#2f3335" opacity="0.55"/><rect x="1120.3" y="771.4" width="9.4" height="0.8" fill="#2f3335" opacity="0.55"/><rect x="959.3" y="773.6" width="9.4" height="0.8" fill="#2f3335" opacity="0.55"/><rect x="1120.3" y="773.6" width="9.4" height="0.8" fill="#2f3335" opacity="0.55"/><rect x="959.3" y="775.8" width="9.4" height="0.8" fill="#2f3335" opacity="0.55"/><rect x="1120.3" y="775.8" width="9.4" height="0.8" fill="#2f3335" opacity="0.55"/><rect x="959.3" y="778.0" width="9.4" height="0.8" fill="#2f3335" opacity="0.55"/><rect x="1120.3" y="778.0" width="9.4" height="0.8" fill="#2f3335" opacity="0.55"/><rect x="959.3" y="780.2" width="9.4" height="0.8" fill="#2f3335" opacity="0.55"/><rect x="1120.3" y="780.2" width="9.4" height="0.8" fill="#2f3335" opacity="0.55"/><rect x="959.3" y="782.4" width="9.4" height="0.8" fill="#2f3335" opacity="0.55"/><rect x="1120.3" y="782.4" width="9.4" height="0.8" fill="#2f3335" opacity="0.55"/>
</svg>
<svg style="position:absolute;left:0;top:0;overflow:visible;will-change:transform" width="1364" height="1767">
<path d="M900.5,1173.3 L946,1162 L1055,1140.8 L1166,1121.6 L1166,1130.2 L1055,1149.3 L946,1168.8 L900.5,1177.4 Q898.2,1175.3 900.5,1173.3 Z" fill="#bfc1b7"/>
<path d="M946,1162 L1055,1140.8 L1166,1121.6 L1166,1123 L1055,1142.3 L946,1163.4 Z" fill="#d2d4cb" opacity="0.7"/>
<path d="M1164.5,1116.6 L1177.5,1114.6 Q1179.7,1114.8 1179.5,1117.5 L1179.8,1128.2 Q1179.8,1130.5 1177.8,1130.8 L1166,1132.2 Q1164.2,1132.2 1164.2,1130 Z" fill="#b3b6ac"/>
<path d="M906,1195.2 L1055,1168.6 L1193,1143.2 Q1199.8,1142.9 1199.6,1146.2 Q1199.3,1149 1193,1150.2 L1055,1178 L906,1205 Z" fill="#1b1e1e"/>
<path d="M893.5,1197.6 L906,1195.2 Q908.2,1195.2 908.5,1197.5 L908.8,1207.2 Q908.8,1209.5 906.6,1209.8 L894.5,1211.2 Q892,1211.2 891.8,1208.6 L891.6,1200.3 Q891.6,1198 893.5,1197.6 Z" fill="#181b1b"/>
<rect x="896.7" y="1199.2" width="2" height="7" fill="#d5d6d6"/>
</svg>
</body></html>
